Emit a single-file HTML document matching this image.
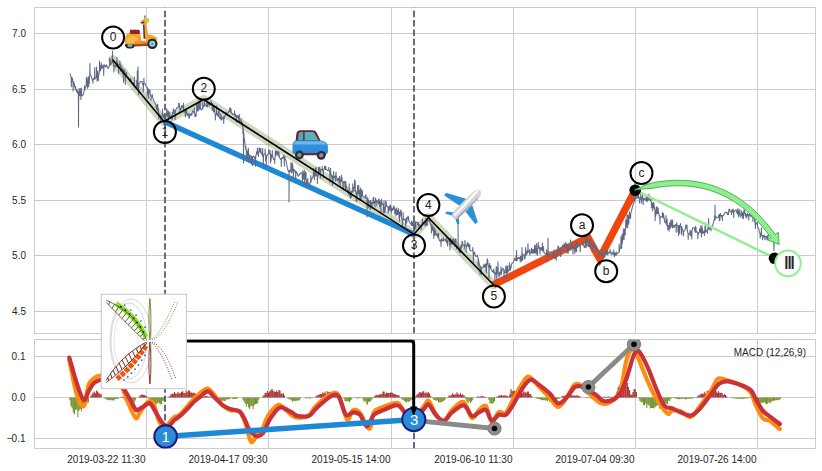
<!DOCTYPE html>
<html><head><meta charset="utf-8"><title>Chart</title>
<style>html,body{margin:0;padding:0;background:#fff;width:822px;height:471px;overflow:hidden}svg{display:block}</style>
</head><body>
<svg width="822" height="471" viewBox="0 0 822 471">
<rect width="822" height="471" fill="#fff"/>
<defs><clipPath id="cu"><rect x="34.5" y="7.5" width="781.0" height="326.0"/></clipPath>
<clipPath id="cl"><rect x="34.5" y="339.5" width="781.0" height="109.0"/></clipPath></defs>
<path d="M34.5 33.5H815.5M34.5 89.5H815.5M34.5 144.5H815.5M34.5 200.5H815.5M34.5 255.5H815.5M34.5 311.5H815.5M146.5 7.5V333.5M268.5 7.5V333.5M391.5 7.5V333.5M513.5 7.5V333.5M635.5 7.5V333.5M757.5 7.5V333.5M34.5 356.5H815.5M34.5 397.5H815.5M34.5 438.5H815.5M146.5 339.5V448.5M268.5 339.5V448.5M391.5 339.5V448.5M513.5 339.5V448.5M635.5 339.5V448.5M757.5 339.5V448.5" stroke="#cccccc" stroke-width="1" fill="none"/>
<rect x="34.5" y="7.5" width="781.0" height="326.0" fill="none" stroke="#cccccc" stroke-width="1"/>
<rect x="34.5" y="339.5" width="781.0" height="109.0" fill="none" stroke="#cccccc" stroke-width="1"/>
<g font-family="Liberation Sans, Arial, sans-serif" font-size="10" fill="#262626" text-anchor="end">
<text x="26" y="37.1">7.0</text>
<text x="26" y="93.1">6.5</text>
<text x="26" y="148.1">6.0</text>
<text x="26" y="204.1">5.5</text>
<text x="26" y="259.1">5.0</text>
<text x="26" y="315.1">4.5</text>
<text x="25.5" y="360.4">0.1</text>
<text x="25.5" y="401.4">0.0</text>
<text x="25.5" y="442.4">−<tspan dx="-1.3">0.1</tspan></text>
<text x="145.5" y="462.6">2019-03-22 11:30</text>
<text x="267.5" y="462.6">2019-04-17 09:30</text>
<text x="390.5" y="462.6">2019-05-15 14:00</text>
<text x="512.5" y="462.6">2019-06-10 11:30</text>
<text x="634.5" y="462.6">2019-07-04 09:30</text>
<text x="756.5" y="462.6">2019-07-26 14:00</text>
</g>
<g clip-path="url(#cu)">
<polyline points="112.5,59.5 164.0,121.5 203.7,99.5 414.0,234.3 428.4,217.7 493.5,284.8" fill="none" stroke="#6b7a2a" stroke-opacity="0.3" stroke-width="9" stroke-linejoin="round" stroke-linecap="round"/>
<line x1="164" y1="121.5" x2="414" y2="234.3" stroke="#1f88d4" stroke-width="5.5"/>
<polyline points="493.5,284.8 588,237.6 599.6,258.6 635.2,190" fill="none" stroke="#f0450f" stroke-width="7.3" stroke-linejoin="miter"/>
<polyline points="70.0,73.7 70.6,75.9 71.2,77.0 71.3,86.7 71.5,77.0 71.8,79.2 72.4,81.4 72.5,78.0 72.7,81.4 73.0,82.5 73.1,91.1 73.3,82.5 73.6,84.7 73.7,81.6 73.9,84.7 74.2,85.8 74.3,83.2 74.5,85.8 74.8,86.9 75.4,89.1 75.5,86.4 75.7,89.1 76.0,90.2 76.6,91.3 76.7,89.2 76.9,91.3 77.2,92.4 77.3,90.4 77.5,92.4 77.8,93.5 77.9,91.6 78.1,93.5 78.4,92.4 78.5,127.0 78.7,92.4 79.0,94.6 79.1,88.5 79.3,94.6 79.6,95.7 80.2,95.7 80.3,88.5 80.5,95.7 80.8,95.7 80.9,99.5 81.1,95.7 81.4,95.7 81.5,87.9 81.7,95.7 82.0,95.7 82.6,95.7 83.2,94.6 83.8,92.4 84.4,90.2 84.5,85.7 84.7,90.2 85.0,89.1 85.6,86.9 86.2,85.8 86.3,77.4 86.5,85.8 86.8,85.8 86.9,79.0 87.1,85.8 87.4,82.5 87.5,88.3 87.7,82.5 88.0,81.4 88.1,76.5 88.3,81.4 88.6,81.4 88.7,86.8 88.9,81.4 89.2,77.0 89.3,83.2 89.5,77.0 89.8,74.8 89.9,63.6 90.1,74.8 90.4,74.8 91.0,75.9 91.6,77.0 92.2,80.3 92.8,79.2 92.9,83.3 93.1,79.2 93.4,79.2 94.0,78.1 94.6,79.2 94.7,67.6 94.9,79.2 95.2,78.1 95.8,78.1 96.4,77.0 96.5,67.1 96.7,77.0 97.0,75.9 97.1,81.2 97.3,75.9 97.6,75.9 97.7,71.0 97.9,75.9 98.2,75.9 98.3,80.7 98.5,75.9 98.8,74.8 99.4,71.5 99.5,60.9 99.7,71.5 100.0,69.3 100.1,65.2 100.3,69.3 100.6,70.4 101.2,67.1 101.3,62.7 101.5,67.1 101.8,68.2 102.4,68.2 103.0,64.9 103.6,66.0 103.7,75.6 103.9,66.0 104.2,64.9 104.8,64.9 105.4,67.1 106.0,66.0 106.6,64.9 107.2,67.1 107.8,68.2 108.4,68.2 109.0,67.1 109.6,63.8 109.7,58.3 109.9,63.8 110.2,64.9 110.3,59.4 110.5,64.9 110.8,64.9 111.4,62.7 112.0,62.7 112.1,56.6 112.3,62.7 112.6,62.7 112.5,51.0 112.7,62.7 113.2,61.6 113.8,64.9 113.9,71.9 114.1,64.9 114.4,64.9 115.0,66.0 115.6,67.1 116.2,66.0 116.3,61.5 116.5,66.0 116.8,63.8 116.9,57.3 117.1,63.8 117.4,67.1 117.5,62.4 117.7,67.1 118.0,63.8 118.6,64.9 118.7,73.6 118.9,64.9 119.2,64.9 119.8,63.8 119.9,61.1 120.1,63.8 120.4,64.9 120.5,71.1 120.7,64.9 121.0,66.0 121.6,68.2 122.2,68.2 122.3,73.9 122.5,68.2 122.8,69.3 123.4,70.4 123.5,82.2 123.7,70.4 124.0,71.5 124.6,72.6 124.7,69.5 124.9,72.6 125.2,74.8 125.3,84.4 125.5,74.8 125.8,75.9 126.4,75.9 126.5,72.2 126.7,75.9 127.0,77.0 127.6,77.0 128.2,77.0 128.8,79.2 129.4,79.2 130.0,81.4 130.6,78.1 131.2,80.3 131.8,83.6 132.4,83.6 133.0,82.5 133.6,85.8 134.2,84.7 134.3,76.7 134.5,84.7 134.8,86.9 135.4,88.0 136.0,86.9 136.6,86.9 136.7,80.4 136.9,86.9 137.2,84.7 137.3,71.0 137.5,84.7 137.8,88.0 138.0,67.0 138.2,88.0 138.4,84.7 138.5,94.7 138.7,84.7 139.0,83.6 139.6,83.6 140.2,81.4 140.8,81.4 141.4,81.4 142.0,81.4 142.6,84.7 143.2,83.6 143.3,92.1 143.5,83.6 143.8,83.6 143.9,78.3 144.1,83.6 144.4,83.6 145.0,83.6 145.6,84.7 146.2,86.9 146.8,86.9 147.4,88.0 147.5,93.9 147.7,88.0 148.0,89.1 148.1,96.8 148.3,89.1 148.6,90.2 148.7,98.5 148.9,90.2 149.2,91.3 149.8,92.4 149.9,89.6 150.1,92.4 150.4,94.6 151.0,95.7 151.1,100.3 151.3,95.7 151.6,95.7 152.2,96.8 152.3,94.4 152.5,96.8 152.8,97.9 153.4,100.1 154.0,101.2 154.6,102.3 155.2,103.4 155.8,104.5 156.4,107.8 157.0,110.0 157.1,104.9 157.3,110.0 157.6,108.9 157.7,104.2 157.9,108.9 158.2,112.2 158.3,108.4 158.5,112.2 158.8,113.3 158.9,119.1 159.1,113.3 159.4,114.4 160.0,114.4 160.6,116.6 160.7,122.4 160.9,116.6 161.2,116.6 161.8,116.6 162.4,114.4 162.5,109.1 162.7,114.4 163.0,114.4 163.1,118.1 163.3,114.4 163.6,115.5 164.2,116.6 164.8,116.6 164.9,120.0 165.1,116.6 165.4,116.6 165.5,122.1 165.7,116.6 166.0,115.5 166.6,115.5 166.7,108.4 166.9,115.5 167.2,115.5 167.8,116.6 167.9,110.4 168.1,116.6 168.4,118.8 168.5,111.6 168.7,118.8 169.0,118.8 169.6,117.7 169.7,112.1 169.9,117.7 170.2,116.6 170.8,116.6 171.4,115.5 172.0,115.5 172.1,120.0 172.3,115.5 172.6,112.2 173.2,112.2 173.3,108.7 173.5,112.2 173.8,110.0 173.9,113.7 174.1,110.0 174.4,113.3 175.0,111.1 175.1,119.6 175.3,111.1 175.6,110.0 176.2,108.9 176.8,107.8 177.4,107.8 178.0,107.8 178.6,105.6 178.7,103.3 178.9,105.6 179.2,106.7 179.3,103.2 179.5,106.7 179.8,107.8 179.9,112.7 180.1,107.8 180.4,110.0 181.0,108.9 181.6,105.6 182.2,105.6 182.8,107.8 183.4,108.9 183.5,103.3 183.7,108.9 184.0,112.2 184.6,111.1 185.2,110.0 185.3,116.7 185.5,110.0 185.8,110.0 185.9,116.1 186.1,110.0 186.4,110.0 187.0,113.3 187.6,115.5 188.2,115.5 188.8,113.3 188.9,118.2 189.1,113.3 189.4,114.4 189.5,118.0 189.7,114.4 190.0,115.5 190.6,114.4 191.2,113.3 191.8,115.5 192.4,111.1 193.0,111.1 193.6,112.2 194.2,113.3 194.3,108.0 194.5,113.3 194.8,114.4 194.9,116.6 195.1,114.4 195.4,114.4 195.5,116.4 195.7,114.4 196.0,113.3 196.1,116.2 196.3,113.3 196.6,110.0 196.7,103.7 196.9,110.0 197.2,108.9 197.8,111.1 197.9,104.0 198.1,111.1 198.4,110.0 198.5,101.5 198.7,110.0 199.0,108.9 199.1,105.5 199.3,108.9 199.6,108.9 199.7,102.3 199.9,108.9 200.2,108.9 200.3,100.2 200.5,108.9 200.8,108.9 201.4,110.0 202.0,108.9 202.6,108.9 202.7,102.6 202.9,108.9 203.2,105.6 203.8,106.7 204.4,104.5 204.5,100.7 204.7,104.5 205.0,105.6 205.6,105.6 206.2,105.6 206.8,106.7 206.9,101.5 207.1,106.7 207.4,106.7 207.5,101.4 207.7,106.7 208.0,104.5 208.6,103.4 209.2,104.5 209.8,105.6 210.4,104.5 211.0,103.4 211.1,100.5 211.3,103.4 211.6,103.4 212.2,103.4 212.3,110.5 212.5,103.4 212.8,107.8 213.4,105.6 213.5,112.0 213.7,105.6 214.0,106.7 214.6,111.1 215.2,114.4 215.3,120.1 215.5,114.4 215.8,115.5 216.4,114.4 216.5,105.8 216.7,114.4 217.0,113.3 217.6,114.4 218.2,116.6 218.3,111.8 218.5,116.6 218.8,116.6 218.9,109.3 219.1,116.6 219.4,116.6 220.0,118.8 220.6,118.8 220.7,113.8 220.9,118.8 221.2,119.9 221.3,115.9 221.5,119.9 221.8,119.9 222.4,117.7 223.0,118.8 223.6,116.6 223.7,123.4 223.9,116.6 224.2,118.8 224.8,115.5 225.4,115.5 226.0,112.2 226.6,114.4 227.2,115.5 227.8,113.3 228.4,112.2 229.0,111.1 229.6,111.1 229.7,107.9 229.9,111.1 230.2,112.2 230.3,108.1 230.5,112.2 230.8,111.1 230.9,108.6 231.1,111.1 231.4,113.3 232.0,113.3 232.6,114.4 233.2,114.4 233.8,114.4 234.4,114.4 234.5,111.1 234.7,114.4 235.0,116.6 235.6,114.4 236.2,115.5 236.3,122.3 236.5,115.5 236.8,117.7 237.4,116.6 238.0,115.5 238.6,118.8 239.2,121.0 239.3,114.4 239.5,121.0 239.8,122.1 240.4,121.0 241.0,123.2 241.1,118.3 241.3,123.2 241.6,124.3 242.2,125.4 242.3,122.3 242.5,125.4 242.8,127.6 242.9,133.7 243.1,127.6 243.4,132.0 243.5,163.0 243.7,132.0 244.0,136.4 244.6,140.8 245.2,145.2 245.8,149.6 245.9,146.5 246.1,149.6 246.4,151.8 246.5,158.9 246.7,151.8 247.0,150.7 247.6,152.9 247.7,156.5 247.9,152.9 248.2,151.8 248.3,148.0 248.5,151.8 248.8,155.1 248.9,161.9 249.1,155.1 249.4,156.2 249.5,161.7 249.7,156.2 250.0,155.1 250.6,156.2 251.2,156.2 251.3,164.1 251.5,156.2 251.8,157.3 252.4,157.3 252.5,165.6 252.7,157.3 253.0,156.2 253.6,156.2 254.2,157.3 254.8,158.4 255.4,156.2 255.5,166.2 255.7,156.2 256.0,156.2 256.6,151.8 257.2,154.0 257.3,148.0 257.5,154.0 257.8,154.0 258.4,151.8 258.5,156.4 258.7,151.8 259.0,151.8 259.1,148.0 259.3,151.8 259.6,151.8 259.7,148.0 259.9,151.8 260.2,150.7 260.8,152.9 260.9,148.2 261.1,152.9 261.4,154.0 262.0,152.9 262.6,156.2 262.7,148.5 262.9,156.2 263.2,156.2 263.3,164.6 263.5,156.2 263.8,155.1 264.4,154.0 265.0,154.0 265.1,149.0 265.3,154.0 265.6,155.1 265.7,160.5 265.9,155.1 266.2,156.2 266.3,166.0 266.5,156.2 266.8,156.2 267.4,155.1 268.0,154.0 268.6,154.0 268.7,149.7 268.9,154.0 269.2,152.9 269.8,152.9 269.9,150.0 270.1,152.9 270.4,154.0 270.5,162.8 270.7,154.0 271.0,155.1 271.1,160.8 271.3,155.1 271.6,157.3 272.2,156.2 272.3,150.4 272.5,156.2 272.8,156.2 273.4,159.5 274.0,159.5 274.6,158.4 274.7,163.6 274.9,158.4 275.2,156.2 275.3,151.0 275.5,156.2 275.8,155.1 275.9,151.2 276.1,155.1 276.4,154.0 276.5,151.3 276.7,154.0 277.0,154.0 277.1,151.4 277.3,154.0 277.6,154.0 277.7,151.5 277.9,154.0 278.2,156.2 278.8,155.1 278.9,151.8 279.1,155.1 279.4,157.3 280.0,158.4 280.6,159.5 281.2,158.4 281.3,166.4 281.5,158.4 281.8,158.4 282.4,157.3 283.0,158.4 283.6,157.3 283.7,155.2 283.9,157.3 284.2,158.4 284.3,166.1 284.5,158.4 284.8,158.4 284.9,156.3 285.1,158.4 285.4,159.5 286.0,160.6 286.6,163.9 287.2,167.2 287.8,169.4 288.4,171.6 289.0,170.5 289.0,202.0 289.2,170.5 289.6,171.6 290.2,170.5 290.8,171.6 290.9,162.8 291.1,171.6 291.4,172.7 291.5,168.6 291.7,172.7 292.0,169.4 292.1,162.5 292.3,169.4 292.6,168.3 292.7,164.7 292.9,168.3 293.2,171.6 293.3,178.6 293.5,171.6 293.8,169.4 293.9,172.7 294.1,169.4 294.4,170.5 295.0,170.5 295.6,171.6 295.7,179.2 295.9,171.6 296.2,171.6 296.8,172.7 297.4,173.8 298.0,176.0 298.6,176.0 299.2,174.9 299.8,173.8 300.4,173.8 301.0,172.7 301.6,172.7 302.2,174.9 302.3,180.8 302.5,174.9 302.8,176.0 302.9,170.9 303.1,176.0 303.4,179.3 304.0,177.1 304.2,169.9 304.3,177.1 304.6,177.1 304.8,185.8 304.9,177.1 305.2,178.2 305.4,171.7 305.5,178.2 305.8,179.3 306.0,172.4 306.1,179.3 306.4,180.4 306.6,186.0 306.7,180.4 307.0,181.5 307.6,183.7 307.8,178.3 307.9,183.7 308.2,183.7 308.8,183.7 309.4,183.7 309.6,186.0 309.7,183.7 310.0,182.6 310.6,182.6 310.8,175.5 310.9,182.6 311.2,180.4 311.8,179.3 312.4,177.1 313.0,177.1 313.6,172.7 313.8,168.4 313.9,172.7 314.2,172.7 314.4,179.8 314.5,172.7 314.8,172.7 315.4,176.0 315.6,167.9 315.7,176.0 316.0,174.9 316.2,167.8 316.3,174.9 316.6,174.9 317.2,174.9 317.4,183.6 317.5,174.9 317.8,176.0 318.4,174.9 318.6,167.3 318.7,174.9 319.0,172.7 319.6,169.4 319.8,167.1 319.9,169.4 320.2,169.4 320.4,178.2 320.5,169.4 320.8,170.5 321.4,169.4 322.0,169.4 322.2,166.6 322.3,169.4 322.6,169.4 323.2,171.6 323.4,178.1 323.5,171.6 323.8,169.4 324.4,168.3 324.6,166.1 324.7,168.3 325.0,168.3 325.6,169.4 325.8,166.2 325.9,169.4 326.2,169.4 326.8,169.4 327.4,170.5 328.0,170.5 328.6,170.5 328.8,167.4 328.9,170.5 329.2,170.5 329.8,172.7 330.0,182.3 330.1,172.7 330.4,174.9 330.6,168.2 330.7,174.9 331.0,173.8 331.6,177.1 332.2,176.0 332.4,185.5 332.5,176.0 332.8,176.0 333.0,181.8 333.1,176.0 333.4,178.2 333.6,171.6 333.7,178.2 334.0,176.0 334.6,177.1 335.2,176.0 335.4,180.9 335.5,176.0 335.8,176.0 336.0,172.1 336.1,176.0 336.4,176.0 337.0,180.4 337.6,180.4 338.2,178.2 338.8,178.2 339.0,182.9 339.1,178.2 339.4,180.4 339.6,176.4 339.7,180.4 340.0,179.3 340.2,185.4 340.3,179.3 340.6,181.5 341.2,181.5 341.4,175.0 341.5,181.5 341.8,181.5 342.0,177.3 342.1,181.5 342.4,181.5 343.0,183.7 343.2,190.0 343.3,183.7 343.6,181.5 344.2,182.6 344.8,181.5 345.0,187.3 345.1,181.5 345.4,181.5 345.6,190.2 345.7,181.5 346.0,184.8 346.6,187.0 347.2,190.3 347.8,190.3 348.4,193.6 349.0,194.7 349.2,183.7 349.3,194.7 349.6,195.8 350.2,193.6 350.4,198.6 350.5,193.6 350.8,191.4 351.4,191.4 351.6,197.1 351.7,191.4 352.0,192.5 352.6,191.4 352.8,183.7 352.9,191.4 353.2,191.4 353.8,187.0 354.4,187.0 354.6,179.9 354.7,187.0 355.0,191.4 355.2,181.0 355.3,191.4 355.6,190.3 356.2,192.5 356.4,201.4 356.5,192.5 356.8,192.5 357.0,200.2 357.1,192.5 357.4,193.6 357.6,185.4 357.7,193.6 358.0,192.5 358.6,193.6 358.8,185.4 358.9,193.6 359.2,191.4 359.4,195.6 359.5,191.4 359.8,190.3 360.0,199.7 360.1,190.3 360.4,191.4 360.6,188.1 360.7,191.4 361.0,193.6 361.2,199.5 361.3,193.6 361.6,194.7 361.8,189.9 361.9,194.7 362.2,195.8 362.4,190.8 362.5,195.8 362.8,195.8 363.4,196.9 364.0,196.9 364.6,196.9 365.2,198.0 365.4,195.1 365.5,198.0 365.8,198.0 366.0,195.2 366.1,198.0 366.4,198.0 367.0,198.0 367.0,217.0 367.2,198.0 367.2,206.1 367.3,198.0 367.6,198.0 367.8,202.7 367.9,198.0 368.2,200.2 368.4,207.7 368.5,200.2 368.8,202.4 369.4,201.3 370.0,203.5 370.2,209.8 370.3,203.5 370.6,200.2 371.2,202.4 371.4,206.0 371.5,202.4 371.8,203.5 372.0,208.2 372.1,203.5 372.4,202.4 373.0,202.4 373.2,197.4 373.3,202.4 373.6,203.5 373.8,197.6 373.9,203.5 374.2,201.3 374.8,202.4 375.0,206.9 375.1,202.4 375.4,202.4 375.6,198.1 375.7,202.4 376.0,201.3 376.6,200.2 376.8,205.7 376.9,200.2 377.2,201.3 377.8,201.3 378.4,203.5 378.6,199.2 378.7,203.5 379.0,204.6 379.2,199.1 379.3,204.6 379.6,206.8 380.2,205.7 380.4,200.8 380.5,205.7 380.8,206.8 381.0,214.0 381.1,206.8 381.4,203.5 381.6,199.3 381.7,203.5 382.0,202.4 382.6,204.6 383.2,204.6 383.4,212.7 383.5,204.6 383.8,205.7 384.0,200.7 384.1,205.7 384.4,207.9 384.6,212.6 384.7,207.9 385.0,207.9 385.2,212.2 385.3,207.9 385.6,206.8 385.8,200.4 385.9,206.8 386.2,205.7 386.4,202.5 386.5,205.7 386.8,205.7 387.4,206.8 388.0,206.8 388.2,213.0 388.3,206.8 388.6,206.8 388.8,211.4 388.9,206.8 389.2,210.1 389.8,209.0 390.0,204.9 390.1,209.0 390.4,210.1 390.6,205.5 390.7,210.1 391.0,210.1 391.2,213.5 391.3,210.1 391.6,207.9 391.8,211.0 391.9,207.9 392.2,209.0 392.8,210.1 393.4,207.9 393.6,205.9 393.7,207.9 394.0,209.0 394.2,206.3 394.3,209.0 394.6,209.0 394.8,214.1 394.9,209.0 395.2,209.0 395.8,211.2 396.0,216.1 396.1,211.2 396.4,211.2 396.6,207.7 396.7,211.2 397.0,214.5 397.2,210.3 397.3,214.5 397.6,214.5 398.2,212.3 398.4,208.6 398.5,212.3 398.8,212.3 399.0,218.1 399.1,212.3 399.4,213.4 399.6,221.6 399.7,213.4 400.0,214.5 400.2,209.7 400.3,214.5 400.6,213.4 401.2,216.7 401.4,210.8 401.5,216.7 401.8,220.0 402.4,221.1 402.6,226.4 402.7,221.1 403.0,220.0 403.2,212.5 403.3,220.0 403.6,218.9 404.2,218.9 404.8,220.0 405.4,220.0 405.6,227.9 405.7,220.0 406.0,218.9 406.6,217.8 406.8,223.1 406.9,217.8 407.2,217.8 407.8,217.8 408.0,216.0 408.1,217.8 408.4,220.0 408.6,216.9 408.7,220.0 409.0,221.1 409.6,222.2 410.2,223.3 410.8,223.3 411.4,225.5 411.6,221.1 411.7,225.5 412.0,225.5 412.2,222.0 412.3,225.5 412.6,225.5 413.2,223.3 413.4,221.7 413.5,223.3 413.8,223.3 414.0,227.4 414.1,223.3 414.4,223.3 414.6,229.4 414.7,223.3 415.0,223.3 415.2,221.2 415.3,223.3 415.6,223.3 415.8,228.8 415.9,223.3 416.2,222.2 416.8,222.2 417.4,222.2 417.6,225.0 417.7,222.2 418.0,222.2 418.6,224.4 418.8,226.9 418.9,224.4 419.2,224.4 419.8,225.5 420.4,225.5 421.0,225.5 421.2,229.4 421.3,225.5 421.6,225.5 422.2,224.4 422.4,219.1 422.5,224.4 422.8,223.3 423.4,222.2 424.0,222.2 424.6,222.2 424.8,224.7 424.9,222.2 425.2,222.2 425.4,225.9 425.5,222.2 425.8,223.3 426.0,217.9 426.1,223.3 426.4,222.2 426.6,225.5 426.7,222.2 427.0,221.1 427.2,225.5 427.3,221.1 427.6,221.1 428.2,220.0 428.8,221.1 429.4,221.1 429.6,216.6 429.7,221.1 430.0,222.2 430.6,223.3 431.2,225.5 431.4,233.1 431.5,225.5 431.8,227.7 432.0,224.4 432.1,227.7 432.4,228.8 433.0,231.0 433.2,226.4 433.3,231.0 433.6,232.1 433.8,238.5 433.9,232.1 434.2,234.3 434.4,228.0 434.5,234.3 434.8,235.4 435.4,234.3 435.6,230.1 435.7,234.3 436.0,233.2 436.6,235.4 437.2,234.3 437.8,237.6 438.0,233.0 438.1,237.6 438.4,237.6 438.6,233.8 438.7,237.6 439.0,238.7 439.6,240.9 440.2,240.9 440.8,239.8 441.0,246.6 441.1,239.8 441.4,238.7 442.0,240.9 442.6,239.8 443.2,240.9 443.4,237.8 443.5,240.9 443.8,239.8 444.4,239.8 445.0,239.8 445.6,240.9 446.2,240.9 446.4,237.9 446.5,240.9 446.8,243.1 447.4,240.9 447.6,245.9 447.7,240.9 448.0,239.8 448.6,239.8 448.8,237.7 448.9,239.8 449.2,240.9 449.8,243.1 450.0,249.7 450.1,243.1 450.4,243.1 450.6,238.1 450.7,243.1 451.0,244.2 451.2,239.2 451.3,244.2 451.6,244.2 452.2,244.2 452.4,239.5 452.5,244.2 452.8,242.0 453.4,240.9 453.6,238.5 453.7,240.9 454.0,242.0 454.6,240.9 454.8,246.2 454.9,240.9 455.2,242.0 455.4,238.7 455.5,242.0 455.8,243.1 456.0,239.1 456.1,243.1 456.4,245.3 456.6,249.0 456.7,245.3 457.0,246.4 457.6,246.4 458.2,245.3 458.0,225.0 458.2,245.3 458.8,247.5 459.0,251.2 459.1,247.5 459.4,248.6 459.6,252.6 459.7,248.6 460.0,247.5 460.2,252.7 460.3,247.5 460.6,246.4 460.8,251.6 460.9,246.4 461.2,245.3 461.4,248.1 461.5,245.3 461.8,246.4 462.0,241.4 462.1,246.4 462.4,244.2 462.6,241.5 462.7,244.2 463.0,244.2 463.6,245.3 464.2,245.3 464.4,248.9 464.5,245.3 464.8,245.3 465.0,240.3 465.1,245.3 465.4,245.3 466.0,245.3 466.2,251.9 466.3,245.3 466.6,246.4 467.2,245.3 467.4,242.2 467.5,245.3 467.8,245.3 468.4,246.4 468.6,243.4 468.7,246.4 469.0,246.4 469.6,249.7 469.8,244.6 469.9,249.7 470.2,250.8 470.8,250.8 471.4,250.8 472.0,250.8 472.6,250.8 472.8,247.6 472.9,250.8 473.2,254.1 473.4,262.3 473.5,254.1 473.8,255.2 474.4,251.9 475.0,254.1 475.6,256.3 476.2,256.3 476.8,256.3 477.4,255.2 478.0,258.5 478.2,266.6 478.3,258.5 478.6,260.7 479.2,264.0 479.8,266.2 480.0,273.8 480.1,266.2 480.4,267.3 481.0,269.5 481.2,274.8 481.3,269.5 481.6,267.3 482.2,267.3 482.8,267.3 483.4,267.3 484.0,264.0 484.6,267.3 485.2,265.1 485.8,264.0 486.0,271.0 486.1,264.0 486.4,264.0 486.6,272.7 486.7,264.0 487.0,262.9 487.2,258.8 487.3,262.9 487.6,264.0 487.8,259.9 487.9,264.0 488.2,265.1 488.8,267.3 489.0,279.0 489.2,267.3 489.4,267.3 489.6,263.3 489.7,267.3 490.0,267.3 490.6,268.4 490.8,265.5 490.9,268.4 491.2,269.5 491.8,270.6 492.4,271.7 493.0,271.7 493.2,270.0 493.3,271.7 493.6,272.8 493.8,269.0 493.9,272.8 494.2,271.7 494.8,273.9 495.0,281.0 495.1,273.9 495.4,272.8 496.0,273.9 496.2,266.6 496.3,273.9 496.6,273.9 496.8,279.8 496.9,273.9 497.2,272.8 497.4,266.7 497.5,272.8 497.8,271.7 498.0,261.8 498.1,271.7 498.4,273.9 499.0,277.2 499.6,272.8 500.2,271.7 500.8,275.0 501.0,266.8 501.1,275.0 501.4,272.8 502.0,270.6 502.6,268.4 503.2,268.4 503.8,269.5 504.0,279.8 504.1,269.5 504.4,271.7 505.0,272.8 505.6,271.7 505.8,266.1 505.9,271.7 506.2,269.5 506.4,278.5 506.5,269.5 506.8,272.8 507.0,265.9 507.1,272.8 507.4,272.8 507.6,265.9 507.7,272.8 508.0,271.7 508.6,270.6 509.2,269.5 509.4,262.9 509.5,269.5 509.8,267.3 510.0,270.7 510.1,267.3 510.4,266.2 510.6,269.2 510.7,266.2 511.0,265.1 511.2,267.6 511.3,265.1 511.6,264.0 512.2,262.9 512.8,262.9 513.4,261.8 514.0,260.7 514.6,258.5 515.2,259.6 515.8,260.7 516.0,255.8 516.1,260.7 516.4,258.5 516.6,250.6 516.7,258.5 517.0,260.7 517.6,258.5 518.2,257.4 518.8,258.5 519.4,257.4 520.0,258.5 520.2,262.0 520.3,258.5 520.6,256.3 521.2,256.3 521.4,261.2 521.5,256.3 521.8,256.3 522.0,247.5 522.1,256.3 522.4,255.2 522.6,260.3 522.7,255.2 523.0,255.2 523.6,254.1 524.2,255.2 524.4,259.1 524.5,255.2 524.8,256.3 525.0,258.6 525.1,256.3 525.4,255.2 525.6,247.6 525.7,255.2 526.0,255.2 526.6,254.1 526.8,250.7 526.9,254.1 527.2,253.0 527.8,251.9 528.0,243.5 528.1,251.9 528.4,251.9 529.0,251.9 529.6,249.7 529.8,255.3 529.9,249.7 530.2,251.9 530.8,253.0 531.4,253.0 531.6,248.0 531.7,253.0 532.0,253.0 532.2,249.2 532.3,253.0 532.6,253.0 533.2,253.0 533.4,249.3 533.5,253.0 533.8,253.0 534.4,253.0 534.6,245.4 534.7,253.0 535.0,251.9 535.6,253.0 535.8,245.2 535.9,253.0 536.2,251.9 536.4,243.7 536.5,251.9 536.8,250.8 537.0,254.8 537.1,250.8 537.4,248.6 537.6,255.0 537.7,248.6 538.0,245.3 538.2,242.2 538.3,245.3 538.6,245.3 539.2,248.6 539.8,247.5 540.0,253.9 540.1,247.5 540.4,248.6 541.0,249.7 541.6,247.5 542.2,250.8 542.4,243.0 542.5,250.8 542.8,250.8 543.4,250.8 543.6,246.4 543.7,250.8 544.0,253.0 544.6,253.0 545.2,254.1 545.8,254.1 546.4,254.1 546.6,249.7 546.7,254.1 547.0,254.1 547.2,261.2 547.3,254.1 547.6,253.0 547.8,256.7 547.9,253.0 548.0,238.0 548.2,253.0 548.2,251.9 548.4,256.9 548.5,251.9 548.8,251.9 549.4,251.9 550.0,251.9 550.6,251.9 551.2,251.9 551.8,251.9 552.4,253.0 553.0,253.0 553.2,257.1 553.3,253.0 553.6,255.2 553.8,250.1 553.9,255.2 554.2,256.3 554.8,254.1 555.0,258.7 555.1,254.1 555.4,254.1 556.0,255.2 556.2,260.2 556.3,255.2 556.6,254.1 557.2,251.9 557.4,254.8 557.5,251.9 557.8,249.7 558.0,246.1 558.1,249.7 558.4,250.8 558.6,246.2 558.7,250.8 559.0,248.6 559.6,250.8 560.2,249.7 560.4,256.5 560.5,249.7 560.8,248.6 561.0,255.7 561.1,248.6 561.4,247.5 562.0,247.5 562.6,245.3 563.2,246.4 563.8,246.4 564.0,243.4 564.1,246.4 564.4,247.5 565.0,244.2 565.6,244.2 565.8,242.2 565.9,244.2 566.2,244.2 566.4,251.9 566.5,244.2 566.8,245.3 567.0,253.1 567.1,245.3 567.4,244.2 568.0,246.4 568.2,253.2 568.3,246.4 568.6,248.6 569.2,249.7 569.8,247.5 570.4,246.4 570.6,239.9 570.7,246.4 571.0,246.4 571.6,247.5 572.2,247.5 572.4,241.9 572.5,247.5 572.8,247.5 573.0,254.0 573.1,247.5 573.4,247.5 574.0,246.4 574.6,248.6 574.8,253.6 574.9,248.6 575.2,248.6 575.4,251.8 575.5,248.6 575.8,247.5 576.0,242.2 576.1,247.5 576.4,247.5 576.6,251.6 576.7,247.5 577.0,246.4 577.2,241.8 577.3,246.4 577.6,247.5 578.2,246.4 578.8,245.3 579.4,245.3 580.0,246.4 580.2,252.0 580.3,246.4 580.6,245.3 581.2,244.2 581.8,243.1 582.4,243.1 583.0,245.3 583.6,245.3 583.8,241.1 583.9,245.3 584.2,247.5 584.8,247.5 585.4,245.3 585.6,237.8 585.7,245.3 586.0,243.1 586.2,247.7 586.3,243.1 586.6,244.2 586.8,237.4 586.9,244.2 587.2,245.3 587.8,245.3 588.4,246.4 589.0,246.4 589.2,238.8 589.3,246.4 589.6,245.3 590.2,245.3 590.4,238.7 590.5,245.3 590.8,244.2 591.4,245.3 592.0,244.2 592.2,252.5 592.3,244.2 592.6,244.2 593.2,246.4 593.4,242.4 593.5,246.4 593.8,245.3 594.4,246.4 594.6,243.9 594.7,246.4 595.0,247.5 595.6,247.5 595.8,250.9 595.9,247.5 596.2,247.5 596.4,246.2 596.5,247.5 596.8,248.6 597.4,249.7 598.0,249.7 598.6,250.8 598.8,256.3 598.9,250.8 599.2,250.8 599.4,254.5 599.5,250.8 599.8,251.9 600.4,251.9 601.0,254.1 601.6,253.0 601.8,256.2 601.9,253.0 602.2,254.1 602.4,250.0 602.5,254.1 602.8,255.2 603.4,255.2 603.6,257.4 603.7,255.2 604.0,254.1 604.6,253.0 604.8,257.6 604.9,253.0 605.2,253.0 605.8,253.0 606.4,249.7 606.6,254.5 606.7,249.7 607.0,249.7 607.6,251.9 607.8,255.0 607.9,251.9 608.2,251.9 608.8,253.0 609.4,251.9 610.0,253.0 610.2,249.4 610.3,253.0 610.6,253.0 611.2,254.1 611.8,254.1 612.0,251.8 612.1,254.1 612.4,253.0 613.0,254.1 613.6,254.1 613.8,250.0 613.9,254.1 614.2,254.1 614.4,256.8 614.5,254.1 614.8,253.0 615.4,255.2 615.6,253.0 615.7,255.2 616.0,255.2 616.2,252.1 616.3,255.2 616.6,254.1 617.2,253.0 617.8,253.0 618.4,253.0 619.0,251.9 619.2,244.1 619.3,251.9 619.6,249.7 620.2,248.6 620.8,246.4 621.0,236.5 621.1,246.4 621.4,245.3 621.6,248.5 621.7,245.3 622.0,243.1 622.2,234.1 622.3,243.1 622.6,240.9 623.2,237.6 623.4,228.8 623.5,237.6 623.8,236.5 624.0,239.5 624.1,236.5 624.4,234.3 624.6,228.9 624.7,234.3 625.0,231.0 625.2,235.0 625.3,231.0 625.6,227.7 625.8,219.7 625.9,227.7 626.2,227.7 626.8,224.4 627.0,213.9 627.1,224.4 627.4,222.2 627.6,227.8 627.7,222.2 628.0,222.2 628.2,215.3 628.3,222.2 628.6,220.0 628.8,224.2 628.9,220.0 629.2,217.8 629.4,211.9 629.5,217.8 629.8,216.7 630.4,213.4 630.6,218.4 630.7,213.4 631.0,212.3 631.6,210.1 632.2,207.9 632.8,205.7 633.4,203.5 634.0,201.3 634.2,194.4 634.3,201.3 634.6,199.1 634.8,201.6 634.9,199.1 635.0,183.0 635.2,199.1 635.2,198.0 635.8,199.1 636.4,198.0 637.0,195.8 637.2,188.9 637.3,195.8 637.6,198.0 638.2,198.0 638.4,192.8 638.5,198.0 638.8,196.9 639.4,198.0 639.6,203.0 639.7,198.0 640.0,199.1 640.6,199.1 640.8,192.9 640.9,199.1 641.2,198.0 641.4,203.2 641.5,198.0 641.8,196.9 642.4,199.1 642.6,193.6 642.7,199.1 643.0,199.1 643.2,204.4 643.3,199.1 643.6,200.2 644.2,198.0 644.8,199.1 645.4,200.2 646.0,200.2 646.2,195.3 646.3,200.2 646.6,201.3 646.8,195.4 646.9,201.3 647.2,201.3 647.4,195.6 647.5,201.3 647.8,199.1 648.4,200.2 649.0,198.0 649.0,194.0 649.2,198.0 649.6,199.1 650.2,200.2 650.8,201.3 651.0,198.7 651.1,201.3 651.4,202.4 651.6,207.9 651.7,202.4 652.0,203.5 652.6,203.5 652.8,211.1 652.9,203.5 653.2,206.8 653.4,202.3 653.5,206.8 653.8,207.9 654.0,203.2 654.1,207.9 654.4,206.8 655.0,210.1 655.2,220.6 655.3,210.1 655.6,211.2 655.8,216.1 655.9,211.2 656.2,211.2 656.4,207.0 656.5,211.2 656.8,213.4 657.0,206.8 657.1,213.4 657.4,213.4 658.0,213.4 658.2,208.0 658.3,213.4 658.6,212.3 659.2,215.6 659.8,216.7 660.0,224.0 660.1,216.7 660.4,217.8 661.0,216.7 661.6,216.7 662.2,216.7 662.4,212.2 662.5,216.7 662.8,217.8 663.4,217.8 663.6,213.4 663.7,217.8 664.0,216.7 664.6,222.2 665.2,222.2 665.8,223.3 666.0,215.6 666.1,223.3 666.4,224.4 667.0,225.5 667.2,219.0 667.3,225.5 667.6,225.5 667.8,229.7 667.9,225.5 668.2,225.5 668.8,225.5 669.0,231.3 669.1,225.5 669.4,227.7 669.6,222.8 669.7,227.7 670.0,228.8 670.6,225.5 670.8,220.0 670.9,225.5 671.2,225.5 671.8,226.6 672.0,219.8 672.1,226.6 672.4,227.7 672.6,220.2 672.7,227.7 673.0,226.6 673.6,225.5 674.2,227.7 674.8,225.5 675.4,224.4 676.0,225.5 676.2,232.2 676.3,225.5 676.6,225.5 676.8,222.5 676.9,225.5 677.2,225.5 677.8,225.5 678.0,231.8 678.1,225.5 678.4,228.8 678.6,235.5 678.7,228.8 679.0,225.5 679.6,225.5 679.8,233.5 679.9,225.5 680.2,226.6 680.4,223.6 680.5,226.6 680.8,226.6 681.4,226.6 681.6,234.4 681.7,226.6 682.0,227.7 682.6,229.9 683.2,231.0 683.4,235.9 683.5,231.0 683.8,231.0 684.4,231.0 685.0,229.9 685.6,227.7 685.8,225.0 685.9,227.7 686.2,227.7 686.4,225.0 686.5,227.7 686.8,228.8 687.0,225.0 687.1,228.8 687.4,231.0 688.0,233.2 688.2,239.6 688.3,233.2 688.6,234.3 689.2,234.3 689.8,234.3 690.0,230.5 690.1,234.3 690.4,232.1 690.6,236.0 690.7,232.1 691.0,231.0 691.6,231.0 691.8,239.0 691.9,231.0 692.2,229.9 692.8,227.7 693.4,227.7 694.0,227.7 694.6,229.9 695.2,232.1 695.4,226.4 695.5,232.1 695.8,232.1 696.0,227.2 696.1,232.1 696.4,231.0 697.0,232.1 697.6,233.2 697.8,238.4 697.9,233.2 698.2,234.3 698.8,232.1 699.4,232.1 699.6,228.7 699.7,232.1 700.0,232.1 700.6,232.1 700.8,225.7 700.9,232.1 701.2,232.1 701.4,236.9 701.5,232.1 701.8,233.2 702.0,225.8 702.1,233.2 702.4,233.2 702.6,229.1 702.7,233.2 703.0,233.2 703.6,232.1 704.2,231.0 704.4,235.4 704.5,231.0 704.8,232.1 705.0,226.2 705.1,232.1 705.4,232.1 705.6,222.9 705.7,232.1 706.0,229.9 706.6,231.0 707.2,231.0 707.4,233.4 707.5,231.0 707.8,227.7 708.4,227.7 708.6,218.4 708.7,227.7 709.0,229.9 709.6,227.7 710.2,228.8 710.8,227.7 711.0,230.9 711.1,227.7 711.4,227.7 712.0,226.6 712.6,225.5 713.2,223.3 713.8,221.1 714.4,220.0 714.6,215.6 714.7,220.0 715.0,217.8 715.0,205.0 715.2,217.8 715.2,220.0 715.3,217.8 715.6,216.7 716.2,216.7 716.8,217.8 717.4,217.8 718.0,217.8 718.6,215.6 719.2,214.5 719.4,220.8 719.5,214.5 719.8,215.6 720.0,220.0 720.1,215.6 720.4,213.4 721.0,215.6 721.6,216.7 722.2,215.6 722.4,220.7 722.5,215.6 722.8,215.6 723.4,215.6 724.0,214.5 724.6,213.4 725.2,212.3 725.8,212.3 726.4,212.3 727.0,213.4 727.6,214.5 728.2,212.3 728.4,214.8 728.5,212.3 728.8,211.2 729.0,209.2 729.1,211.2 729.4,211.2 729.6,209.1 729.7,211.2 730.0,211.2 730.6,211.2 731.2,211.2 731.4,214.7 731.5,211.2 731.8,212.3 732.0,209.4 732.1,212.3 732.4,212.3 733.0,212.3 733.2,209.1 733.3,212.3 733.6,211.2 733.8,217.4 733.9,211.2 734.2,211.2 734.8,211.2 735.4,210.1 736.0,210.1 736.6,210.1 736.8,212.9 736.9,210.1 737.2,211.2 737.4,214.1 737.5,211.2 737.8,211.2 738.0,208.6 738.1,211.2 738.4,211.2 738.6,217.0 738.7,211.2 739.0,213.4 739.2,216.2 739.3,213.4 739.6,213.4 739.8,209.3 739.9,213.4 740.2,213.4 740.8,214.5 741.0,217.3 741.1,214.5 741.4,215.6 741.6,210.8 741.7,215.6 742.0,214.5 742.6,213.4 742.8,218.4 742.9,213.4 743.2,212.3 743.4,218.6 743.5,212.3 743.8,213.4 744.0,209.8 744.1,213.4 744.4,211.2 744.6,209.9 744.7,211.2 745.0,213.4 745.2,216.2 745.3,213.4 745.6,213.4 746.2,215.6 746.4,218.2 746.5,215.6 746.8,215.6 747.4,213.4 748.0,216.7 748.6,214.5 748.8,219.9 748.9,214.5 749.2,215.6 749.8,214.5 750.4,215.6 750.6,210.9 750.7,215.6 751.0,216.7 751.2,213.5 751.3,216.7 751.6,215.6 751.8,212.1 751.9,215.6 752.2,214.5 752.4,210.5 752.5,214.5 752.8,216.7 753.0,221.4 753.1,216.7 753.4,215.6 754.0,217.8 754.6,218.9 754.8,222.4 754.9,218.9 755.2,222.2 755.4,228.4 755.5,222.2 755.8,222.2 756.4,223.3 757.0,224.4 757.2,222.5 757.3,224.4 757.6,226.6 758.2,227.7 758.8,228.8 759.4,232.1 760.0,233.2 760.2,238.0 760.3,233.2 760.6,233.2 760.8,236.3 760.9,233.2 761.2,233.2 761.4,228.1 761.5,233.2 761.8,235.4 762.4,235.4 762.6,239.7 762.7,235.4 763.0,235.4 763.6,236.5 764.2,237.6 764.4,235.1 764.5,237.6 764.8,236.5 765.0,240.0 765.1,236.5 765.4,236.5 766.0,236.5 766.6,236.5 766.8,239.4 766.9,236.5 767.2,236.5 767.8,235.4 768.0,240.1 768.1,235.4 768.4,235.4 769.0,234.3 769.6,233.2 770.2,234.3 770.8,235.4 771.4,236.5 771.6,234.2 771.7,236.5 772.0,237.6 772.6,238.7 773.2,239.8 773.8,243.1 774.0,250.5 774.1,243.1 774.4,242.0" fill="none" stroke="#5d6884" stroke-width="1.05" stroke-linejoin="round"/>
<polyline points="112.5,59.5 164.0,121.5 203.7,99.5 414.0,234.3 428.4,217.7 493.5,284.8" fill="none" stroke="#000" stroke-width="1.6" stroke-linejoin="miter"/>
<line x1="635.2" y1="190" x2="774.5" y2="258" stroke="#90ee90" stroke-width="2.5"/>
<circle cx="635.2" cy="190.2" r="5.8" fill="#000"/>
<circle cx="774.5" cy="258.3" r="5.8" fill="#000"/>
<path d="M634.5 190.0 L637.5 189.6 L640.5 189.2 L643.4 188.9 L646.3 188.7 L649.2 188.5 L652.0 188.4 L654.7 187.9 L657.4 187.4 L660.1 187.0 L662.8 186.7 L665.4 186.4 L668.0 186.1 L670.6 186.0 L673.2 185.8 L675.8 185.7 L678.3 185.7 L680.8 185.8 L683.3 185.8 L685.8 186.0 L688.2 186.2 L690.7 186.4 L693.1 186.7 L695.5 187.0 L697.8 187.4 L700.2 187.9 L702.5 188.4 L704.8 189.0 L707.1 189.6 L709.4 190.2 L711.7 191.0 L713.9 191.7 L716.1 192.6 L718.3 193.4 L720.5 194.4 L722.7 195.4 L724.8 196.4 L726.9 197.5 L729.0 198.6 L731.1 199.8 L733.2 201.1 L735.3 202.4 L737.3 203.8 L739.3 205.2 L741.3 206.6 L743.3 208.2 L745.2 209.7 L747.2 211.4 L749.1 213.1 L751.0 214.8 L752.9 216.6 L754.8 218.5 L756.6 220.4 L758.5 222.3 L760.3 224.3 L762.1 226.4 L763.9 228.5 L765.6 230.7 L767.4 232.9 L769.1 235.2 L770.8 237.6 L770.8 237.6 L767.6 239.8 L779.1 244.5 L778.4 232.2 L775.2 234.4 L775.2 234.4 L773.4 232.0 L771.7 229.7 L769.9 227.3 L768.0 225.1 L766.2 222.9 L764.3 220.8 L762.4 218.7 L760.5 216.6 L758.6 214.7 L756.7 212.7 L754.7 210.9 L752.7 209.0 L750.7 207.3 L748.7 205.6 L746.6 203.9 L744.6 202.3 L742.5 200.8 L740.3 199.3 L738.2 197.9 L736.1 196.5 L733.9 195.2 L731.7 193.9 L729.5 192.7 L727.2 191.6 L725.0 190.5 L722.7 189.4 L720.4 188.5 L718.1 187.5 L715.7 186.7 L713.4 185.8 L711.0 185.1 L708.6 184.4 L706.2 183.7 L703.7 183.1 L701.3 182.6 L698.8 182.1 L696.3 181.7 L693.8 181.3 L691.3 181.0 L688.7 180.8 L686.1 180.6 L683.5 180.4 L680.9 180.4 L678.3 180.3 L675.7 180.4 L673.0 180.4 L670.3 180.6 L667.6 180.8 L664.9 181.0 L662.1 181.3 L659.4 181.7 L656.6 182.1 L653.8 182.6 L651.0 183.1 L648.3 184.1 L645.5 185.2 L642.8 186.3 L640.0 187.5 L637.3 188.7 L634.5 190.0Z" fill="#90ee90" stroke="#4caf50" stroke-width="1"/>
<path d="M165 333.5 V7.5 M414 333.5 V7.5" stroke="#4f5a6c" stroke-width="1.75" stroke-dasharray="6.5 2.8" fill="none"/>
<g fill="none" stroke="#000" stroke-width="2">
<circle cx="113.1" cy="37.5" r="11"/>
<circle cx="164.9" cy="132.1" r="11"/>
<circle cx="203.8" cy="88.7" r="11"/>
<circle cx="414.0" cy="245.4" r="11"/>
<circle cx="428.4" cy="205.1" r="11"/>
<circle cx="493.9" cy="296.4" r="11"/>
<circle cx="582.0" cy="225.3" r="11"/>
<circle cx="606.2" cy="271.2" r="11"/>
<circle cx="641.5" cy="173.1" r="11"/>
</g>
<g font-family="Liberation Sans, Arial, sans-serif" font-size="12" fill="#222" text-anchor="middle">
<text x="113.1" y="41.1">0</text>
<text x="164.9" y="135.7">1</text>
<text x="203.8" y="92.3">2</text>
<text x="414.0" y="249.0">3</text>
<text x="428.4" y="208.7">4</text>
<text x="493.9" y="300.0">5</text>
<text x="582.0" y="228.9">a</text>
<text x="606.2" y="274.8">b</text>
<text x="641.5" y="176.7">c</text>
</g>
<circle cx="788" cy="263.4" r="12.8" fill="#fff" stroke="#90ee90" stroke-width="2"/>
<text x="783.8 786.95 790.1" y="268.8" font-family="Liberation Sans, sans-serif" font-size="18.7" fill="#222" stroke="#222" stroke-width="0.2">III</text>
<g id="scooter">
  <ellipse cx="130" cy="45.3" rx="5" ry="3.3" fill="#1e2a33"/>
  <ellipse cx="130" cy="45.6" rx="2.6" ry="1.6" fill="#7fa8b8"/>
  <path d="M124.8 41.5 C124.5 36 127 32.5 131 32 L139.5 32.5 C141 36 141.5 39 141 41.5 L139 44.2 L128 44.5 C126 44.3 125 43.2 124.8 41.5Z" fill="#f2a433"/>
  <path d="M126 40.5 C127 37 130 35.5 134 36 L138 38 L137 43 L128 43.5Z" fill="#f7c04a" opacity="0.8"/>
  <path d="M130 29.8 L139 29.8 C140 30.5 140.2 32.5 139.6 34 L130.5 34 C129.8 33 129.8 31 130 29.8Z" fill="#8e2424"/>
  <path d="M135 41 L147 40.5 L147.5 44.8 L134 45.5Z" fill="#e8952a"/>
  <path d="M134 44.3 L147.5 43.6 L147.5 46 L134 46.4Z" fill="#a0442a"/>
  <path d="M143.3 23 C145.5 23 146.8 25 147.2 28 L148 34.5 C150.5 34.8 154 35.5 156.8 37.5 C157.6 38.6 157.3 40.2 156 40.6 L147.5 41 C145.2 40.4 144.6 38 144.5 35.5 L143.8 27Z" fill="#f2a433"/>
  <path d="M143 24.5 L144.3 24.5 L145.2 38.5 L143.6 39Z" fill="#3a3050"/>
  <path d="M141 20.5 L146.5 18 C148.5 17.5 149.8 19.2 149 21.2 L146 24.3 L142 24.5Z" fill="#e9a43a"/>
  <circle cx="147.2" cy="20" r="2" fill="#c8d050"/>
  <path d="M140.5 22.5 L144 21.6 L144.3 23 L140.8 23.6Z" fill="#2a2a3a"/>
  <path d="M144 15.5 L145.5 15.5 L145.6 18.5 L144.2 18.5Z" fill="#777"/>
  <circle cx="152.3" cy="43.8" r="5.2" fill="#1e2a33"/>
  <circle cx="152.3" cy="43.8" r="3" fill="#a8d4d8"/>
  <circle cx="152.3" cy="43.8" r="1.3" fill="#5a9a80"/>
</g>
<g id="car">
  <path d="M295.5 141.5 L296.5 133 C297 131 298.5 130.2 300.5 130.2 L312.5 130.2 C314.5 130.2 315.6 131 316.6 132.6 L321 141.5Z" fill="#6b2336"/>
  <path d="M297.8 140.6 L298.6 134 C298.9 132.6 299.6 132 301 132 L303.2 132 L303.2 140.6Z" fill="#4fa9b2"/>
  <path d="M304.6 140.6 L304.6 132 L312 132 C313.3 132 314.1 132.6 314.8 133.8 L318.5 140.6Z" fill="#58b4bc"/>
  <path d="M292.6 145 C292.6 142 294 140.5 297 140.5 L320.5 140.6 C324 141 327.5 142.5 327.8 145.5 L328 151.5 C328 153.2 327 154 325.5 154 L294.5 154 C293 154 292.4 153 292.4 151.5Z" fill="#2f8ddc"/>
  <path d="M294 142.8 C295 141.6 296.5 141.2 298 141.2 L320 141.3 C323 141.6 326 142.6 327 144.5 L294 144.5Z" fill="#6fb8ee"/>
  <path d="M296 153 L326 153 L326 155.3 L296 155.3Z" fill="#6e2a33"/>
  <circle cx="299.4" cy="155" r="4.4" fill="#2d2d35"/>
  <circle cx="299.4" cy="155" r="2.2" fill="#8a8f98"/>
  <circle cx="321.2" cy="155.3" r="4.4" fill="#2d2d35"/>
  <circle cx="321.2" cy="155.3" r="2.2" fill="#8a8f98"/>
</g>
<g id="plane" transform="translate(466.4 204.6) rotate(-45)">
  <path d="M4.5 -3 L-6 -22.8 L-9.2 -22.2 L-5.5 -3Z" fill="#2b8fd9"/>
  <path d="M4.5 3 L-4.5 20.6 L-7.6 20 L-5.5 3Z" fill="#2b8fd9"/>
  <path d="M-13 -2 L-19 -9.4 L-21.2 -8.7 L-17.5 -1.5Z" fill="#2b8fd9"/>
  <path d="M-13 2 L-18.5 8.6 L-20.8 8 L-17.5 1.5Z" fill="#2b8fd9"/>
  <path d="M-19 0 C-19 -2.8 -16 -4.2 -12 -4.3 L12 -4.3 C16.5 -4.3 19.5 -2.4 19.5 0 C19.5 2.4 16.5 4.3 12 4.3 L-12 4.3 C-16 4.2 -19 2.8 -19 0Z" fill="#d3d3d8"/>
  <path d="M-16 -1.8 L14 -3.2 C16.5 -3 18.3 -1.8 18.3 -0.5 L-16 0.6Z" fill="#f7f7f7"/>
  <path d="M-17 2.2 L12 3.0 L12 4.1 L-15 3.8Z" fill="#a0a0aa"/>
</g>

</g>
<g clip-path="url(#cl)">
<path d="M90.3 397.5v-1.6h1v1.6zM91.5 397.5v-3.3h1v3.3zM92.6 397.5v-5.1h1v5.1zM93.8 397.5v-5.9h1v5.9zM94.9 397.5v-4.3h1v4.3zM96.1 397.5v-6.9h1v6.9zM97.2 397.5v-6.1h1v6.1zM98.4 397.5v-4.7h1v4.7zM99.5 397.5v-3.2h1v3.2zM100.7 397.5v-3.8h1v3.8zM120.3 397.5v-0.4h1v0.4zM121.5 397.5v-0.9h1v0.9zM122.6 397.5v-0.4h1v0.4zM138.3 397.5v-0.5h1v0.5zM139.5 397.5v-2.0h1v2.0zM140.6 397.5v-2.8h1v2.8zM141.8 397.5v-3.1h1v3.1zM142.9 397.5v-2.6h1v2.6zM144.1 397.5v-2.6h1v2.6zM145.2 397.5v-1.5h1v1.5zM146.4 397.5v-1.2h1v1.2zM168.3 397.5v-0.8h1v0.8zM169.5 397.5v-1.7h1v1.7zM170.6 397.5v-3.2h1v3.2zM171.8 397.5v-4.1h1v4.1zM172.9 397.5v-3.8h1v3.8zM174.1 397.5v-5.4h1v5.4zM175.2 397.5v-4.1h1v4.1zM176.4 397.5v-3.7h1v3.7zM177.5 397.5v-5.5h1v5.5zM178.7 397.5v-4.0h1v4.0zM179.8 397.5v-4.6h1v4.6zM181.0 397.5v-5.5h1v5.5zM182.1 397.5v-6.3h1v6.3zM183.3 397.5v-4.7h1v4.7zM184.4 397.5v-4.3h1v4.3zM185.6 397.5v-7.2h1v7.2zM186.7 397.5v-5.2h1v5.2zM187.9 397.5v-7.2h1v7.2zM189.0 397.5v-6.8h1v6.8zM190.2 397.5v-4.9h1v4.9zM191.3 397.5v-4.9h1v4.9zM192.5 397.5v-4.8h1v4.8zM193.6 397.5v-4.7h1v4.7zM194.8 397.5v-4.1h1v4.1zM195.9 397.5v-3.5h1v3.5zM197.1 397.5v-3.0h1v3.0zM198.2 397.5v-2.6h1v2.6zM199.4 397.5v-1.1h1v1.1zM201.5 397.5v-0.8h1v0.8zM202.6 397.5v-0.8h1v0.8zM203.8 397.5v-1.0h1v1.0zM204.9 397.5v-1.6h1v1.6zM206.1 397.5v-1.3h1v1.3zM207.2 397.5v-1.3h1v1.3zM208.4 397.5v-0.8h1v0.8zM209.5 397.5v-0.9h1v0.9zM210.7 397.5v-0.7h1v0.7zM262.3 397.5v-1.0h1v1.0zM263.4 397.5v-2.5h1v2.5zM264.6 397.5v-4.6h1v4.6zM265.7 397.5v-4.5h1v4.5zM266.9 397.5v-6.6h1v6.6zM268.0 397.5v-4.8h1v4.8zM269.2 397.5v-5.9h1v5.9zM270.3 397.5v-7.4h1v7.4zM271.5 397.5v-8.7h1v8.7zM272.6 397.5v-7.0h1v7.0zM273.8 397.5v-6.1h1v6.1zM274.9 397.5v-5.5h1v5.5zM276.1 397.5v-7.1h1v7.1zM277.2 397.5v-5.4h1v5.4zM278.4 397.5v-7.4h1v7.4zM279.5 397.5v-6.9h1v6.9zM280.7 397.5v-4.1h1v4.1zM281.8 397.5v-3.7h1v3.7zM283.0 397.5v-3.9h1v3.9zM284.1 397.5v-2.1h1v2.1zM315.3 397.5v-0.9h1v0.9zM316.4 397.5v-2.1h1v2.1zM317.6 397.5v-2.5h1v2.5zM318.7 397.5v-3.2h1v3.2zM319.9 397.5v-3.4h1v3.4zM321.0 397.5v-3.3h1v3.3zM322.2 397.5v-5.0h1v5.0zM323.3 397.5v-4.3h1v4.3zM324.5 397.5v-6.0h1v6.0zM325.6 397.5v-3.7h1v3.7zM326.8 397.5v-6.2h1v6.2zM327.9 397.5v-5.5h1v5.5zM329.1 397.5v-5.8h1v5.8zM330.2 397.5v-5.3h1v5.3zM331.4 397.5v-4.8h1v4.8zM332.5 397.5v-3.5h1v3.5zM333.7 397.5v-1.9h1v1.9zM334.8 397.5v-2.0h1v2.0zM338.4 397.5v-0.7h1v0.7zM339.6 397.5v-0.9h1v0.9zM340.7 397.5v-0.7h1v0.7zM373.3 397.5v-0.7h1v0.7zM374.4 397.5v-1.7h1v1.7zM375.6 397.5v-2.9h1v2.9zM376.7 397.5v-2.2h1v2.2zM377.9 397.5v-2.6h1v2.6zM379.0 397.5v-3.1h1v3.1zM380.2 397.5v-3.3h1v3.3zM381.3 397.5v-3.4h1v3.4zM382.5 397.5v-6.1h1v6.1zM383.6 397.5v-6.0h1v6.0zM384.8 397.5v-3.8h1v3.8zM385.9 397.5v-5.1h1v5.1zM387.1 397.5v-4.5h1v4.5zM388.2 397.5v-4.5h1v4.5zM389.4 397.5v-4.5h1v4.5zM390.5 397.5v-5.2h1v5.2zM391.7 397.5v-4.8h1v4.8zM392.8 397.5v-3.9h1v3.9zM394.0 397.5v-3.2h1v3.2zM395.1 397.5v-3.2h1v3.2zM396.3 397.5v-2.4h1v2.4zM397.4 397.5v-2.5h1v2.5zM398.6 397.5v-1.9h1v1.9zM415.3 397.5v-1.1h1v1.1zM416.4 397.5v-3.1h1v3.1zM417.6 397.5v-3.7h1v3.7zM418.7 397.5v-5.2h1v5.2zM419.9 397.5v-5.2h1v5.2zM421.0 397.5v-4.8h1v4.8zM422.2 397.5v-6.0h1v6.0zM423.3 397.5v-6.6h1v6.6zM424.5 397.5v-4.3h1v4.3zM425.6 397.5v-5.2h1v5.2zM426.8 397.5v-4.7h1v4.7zM427.9 397.5v-5.2h1v5.2zM429.1 397.5v-4.1h1v4.1zM430.2 397.5v-1.7h1v1.7zM447.3 397.5v-0.6h1v0.6zM448.4 397.5v-1.9h1v1.9zM449.6 397.5v-1.8h1v1.8zM450.7 397.5v-2.5h1v2.5zM451.9 397.5v-4.2h1v4.2zM453.0 397.5v-2.9h1v2.9zM454.2 397.5v-3.1h1v3.1zM455.3 397.5v-3.2h1v3.2zM456.5 397.5v-5.2h1v5.2zM457.6 397.5v-3.4h1v3.4zM458.8 397.5v-2.8h1v2.8zM459.9 397.5v-4.4h1v4.4zM461.1 397.5v-2.5h1v2.5zM462.2 397.5v-3.2h1v3.2zM463.4 397.5v-2.2h1v2.2zM464.5 397.5v-1.1h1v1.1zM476.4 397.5v-0.8h1v0.8zM477.6 397.5v-1.2h1v1.2zM478.7 397.5v-0.8h1v0.8zM479.9 397.5v-1.1h1v1.1zM481.0 397.5v-1.3h1v1.3zM482.2 397.5v-1.5h1v1.5zM483.3 397.5v-1.0h1v1.0zM484.5 397.5v-0.8h1v0.8zM485.6 397.5v-0.6h1v0.6zM495.3 397.5v-0.4h1v0.4zM496.4 397.5v-0.8h1v0.8zM497.6 397.5v-1.5h1v1.5zM498.7 397.5v-2.3h1v2.3zM499.9 397.5v-1.9h1v1.9zM501.0 397.5v-2.4h1v2.4zM502.2 397.5v-1.7h1v1.7zM503.3 397.5v-2.3h1v2.3zM504.5 397.5v-2.2h1v2.2zM505.6 397.5v-1.9h1v1.9zM506.8 397.5v-1.4h1v1.4zM507.9 397.5v-0.9h1v0.9zM509.3 397.5v-3.0h1v3.0zM510.4 397.5v-8.4h1v8.4zM511.6 397.5v-6.7h1v6.7zM512.8 397.5v-6.2h1v6.2zM513.9 397.5v-6.8h1v6.8zM515.3 397.5v-1.3h1v1.3zM516.4 397.5v-2.7h1v2.7zM517.6 397.5v-3.6h1v3.6zM518.7 397.5v-5.1h1v5.1zM519.9 397.5v-4.2h1v4.2zM521.0 397.5v-4.8h1v4.8zM522.2 397.5v-4.8h1v4.8zM523.3 397.5v-6.2h1v6.2zM524.5 397.5v-5.2h1v5.2zM525.6 397.5v-4.8h1v4.8zM526.8 397.5v-5.9h1v5.9zM527.9 397.5v-6.0h1v6.0zM529.1 397.5v-3.5h1v3.5zM530.2 397.5v-3.4h1v3.4zM531.4 397.5v-1.5h1v1.5zM561.4 397.5v-1.2h1v1.2zM562.6 397.5v-1.8h1v1.8zM563.7 397.5v-1.7h1v1.7zM564.9 397.5v-1.7h1v1.7zM566.0 397.5v-1.9h1v1.9zM567.2 397.5v-2.7h1v2.7zM568.3 397.5v-2.7h1v2.7zM569.5 397.5v-3.2h1v3.2zM570.6 397.5v-3.1h1v3.1zM571.8 397.5v-2.1h1v2.1zM572.9 397.5v-2.0h1v2.0zM574.1 397.5v-2.0h1v2.0zM575.2 397.5v-1.8h1v1.8zM576.4 397.5v-2.2h1v2.2zM577.5 397.5v-2.0h1v2.0zM578.7 397.5v-1.6h1v1.6zM579.8 397.5v-0.8h1v0.8zM601.4 397.5v-0.5h1v0.5zM602.6 397.5v-0.8h1v0.8zM603.7 397.5v-0.7h1v0.7zM604.9 397.5v-0.8h1v0.8zM606.0 397.5v-0.7h1v0.7zM607.2 397.5v-0.7h1v0.7zM608.3 397.5v-0.9h1v0.9zM609.5 397.5v-0.6h1v0.6zM610.6 397.5v-0.8h1v0.8zM611.8 397.5v-0.7h1v0.7zM615.3 397.5v-3.1h1v3.1zM616.4 397.5v-5.9h1v5.9zM617.6 397.5v-10.3h1v10.3zM618.7 397.5v-12.3h1v12.3zM619.9 397.5v-10.6h1v10.6zM621.0 397.5v-14.3h1v14.3zM622.2 397.5v-14.7h1v14.7zM623.3 397.5v-16.0h1v16.0zM624.5 397.5v-11.4h1v11.4zM625.6 397.5v-14.4h1v14.4zM626.8 397.5v-14.4h1v14.4zM627.9 397.5v-10.6h1v10.6zM629.1 397.5v-7.6h1v7.6zM630.2 397.5v-3.3h1v3.3zM631.3 397.5v-2.5h1v2.5zM632.4 397.5v-5.6h1v5.6zM633.6 397.5v-8.5h1v8.5zM634.7 397.5v-8.1h1v8.1zM635.9 397.5v-5.5h1v5.5zM696.3 397.5v-0.6h1v0.6zM697.4 397.5v-1.8h1v1.8zM698.6 397.5v-2.2h1v2.2zM699.7 397.5v-3.3h1v3.3zM700.9 397.5v-4.0h1v4.0zM702.0 397.5v-3.5h1v3.5zM703.2 397.5v-4.0h1v4.0zM704.3 397.5v-5.8h1v5.8zM705.5 397.5v-3.8h1v3.8zM706.6 397.5v-6.5h1v6.5zM707.8 397.5v-7.0h1v7.0zM708.9 397.5v-7.4h1v7.4zM710.1 397.5v-5.5h1v5.5zM711.2 397.5v-6.1h1v6.1zM712.4 397.5v-6.2h1v6.2zM713.5 397.5v-6.3h1v6.3zM714.7 397.5v-7.4h1v7.4zM715.8 397.5v-6.2h1v6.2zM717.0 397.5v-4.8h1v4.8zM718.1 397.5v-6.2h1v6.2zM719.3 397.5v-4.8h1v4.8zM720.4 397.5v-4.7h1v4.7zM721.6 397.5v-4.6h1v4.6zM722.7 397.5v-2.5h1v2.5zM723.9 397.5v-3.4h1v3.4zM725.0 397.5v-2.5h1v2.5zM726.2 397.5v-1.3h1v1.3z" fill="#a52a2a"/>
<path d="M69.3 397.5v2.8h1v-2.8zM70.5 397.5v8.8h1v-8.8zM71.6 397.5v11.0h1v-11.0zM72.8 397.5v15.1h1v-15.1zM73.9 397.5v17.0h1v-17.0zM75.1 397.5v12.5h1v-12.5zM76.2 397.5v12.1h1v-12.1zM77.4 397.5v19.8h1v-19.8zM78.5 397.5v13.2h1v-13.2zM79.7 397.5v11.4h1v-11.4zM80.8 397.5v14.0h1v-14.0zM82.0 397.5v7.0h1v-7.0zM83.3 397.5v2.7h1v-2.7zM84.5 397.5v5.4h1v-5.4zM85.6 397.5v7.3h1v-7.3zM86.8 397.5v5.2h1v-5.2zM87.9 397.5v5.1h1v-5.1zM103.3 397.5v0.5h1v-0.5zM104.5 397.5v1.3h1v-1.3zM105.6 397.5v2.0h1v-2.0zM106.8 397.5v2.3h1v-2.3zM107.9 397.5v2.8h1v-2.8zM109.1 397.5v2.3h1v-2.3zM110.2 397.5v3.0h1v-3.0zM111.4 397.5v2.5h1v-2.5zM112.5 397.5v3.1h1v-3.1zM113.7 397.5v2.9h1v-2.9zM114.8 397.5v1.6h1v-1.6zM116.0 397.5v1.4h1v-1.4zM117.1 397.5v1.2h1v-1.2zM118.3 397.5v1.0h1v-1.0zM123.3 397.5v1.2h1v-1.2zM124.5 397.5v2.9h1v-2.9zM125.6 397.5v3.9h1v-3.9zM126.8 397.5v5.4h1v-5.4zM127.9 397.5v6.0h1v-6.0zM129.1 397.5v7.3h1v-7.3zM130.2 397.5v6.5h1v-6.5zM131.4 397.5v7.0h1v-7.0zM132.5 397.5v6.0h1v-6.0zM133.7 397.5v5.3h1v-5.3zM134.8 397.5v3.1h1v-3.1zM148.3 397.5v1.3h1v-1.3zM149.5 397.5v2.7h1v-2.7zM150.6 397.5v3.2h1v-3.2zM151.8 397.5v6.3h1v-6.3zM152.9 397.5v7.6h1v-7.6zM154.1 397.5v4.8h1v-4.8zM155.2 397.5v7.9h1v-7.9zM156.4 397.5v6.4h1v-6.4zM157.5 397.5v5.3h1v-5.3zM158.7 397.5v5.7h1v-5.7zM159.8 397.5v7.0h1v-7.0zM161.0 397.5v6.6h1v-6.6zM162.1 397.5v3.3h1v-3.3zM163.3 397.5v3.6h1v-3.6zM164.4 397.5v1.3h1v-1.3zM214.3 397.5v0.4h1v-0.4zM215.5 397.5v1.7h1v-1.7zM216.6 397.5v2.4h1v-2.4zM217.8 397.5v2.0h1v-2.0zM218.9 397.5v3.2h1v-3.2zM220.1 397.5v3.2h1v-3.2zM221.2 397.5v3.7h1v-3.7zM222.4 397.5v3.1h1v-3.1zM223.5 397.5v3.7h1v-3.7zM224.7 397.5v3.6h1v-3.6zM225.8 397.5v2.0h1v-2.0zM227.0 397.5v1.8h1v-1.8zM228.1 397.5v2.0h1v-2.0zM229.3 397.5v1.4h1v-1.4zM230.3 397.5v0.4h1v-0.4zM231.5 397.5v1.1h1v-1.1zM232.6 397.5v1.6h1v-1.6zM233.8 397.5v1.5h1v-1.5zM234.9 397.5v1.5h1v-1.5zM236.1 397.5v1.2h1v-1.2zM237.2 397.5v0.8h1v-0.8zM242.3 397.5v1.9h1v-1.9zM243.5 397.5v4.1h1v-4.1zM244.6 397.5v6.0h1v-6.0zM245.8 397.5v9.0h1v-9.0zM246.9 397.5v6.4h1v-6.4zM248.1 397.5v10.0h1v-10.0zM249.2 397.5v11.4h1v-11.4zM250.4 397.5v9.1h1v-9.1zM251.5 397.5v8.4h1v-8.4zM252.7 397.5v11.5h1v-11.5zM253.8 397.5v7.7h1v-7.7zM255.0 397.5v6.6h1v-6.6zM256.1 397.5v6.6h1v-6.6zM257.3 397.5v5.7h1v-5.7zM258.4 397.5v2.1h1v-2.1zM287.3 397.5v0.9h1v-0.9zM288.4 397.5v1.8h1v-1.8zM289.6 397.5v2.1h1v-2.1zM290.7 397.5v2.8h1v-2.8zM291.9 397.5v4.2h1v-4.2zM293.0 397.5v3.3h1v-3.3zM294.2 397.5v3.5h1v-3.5zM295.3 397.5v3.5h1v-3.5zM296.5 397.5v3.3h1v-3.3zM297.6 397.5v2.9h1v-2.9zM298.8 397.5v3.0h1v-3.0zM299.9 397.5v1.3h1v-1.3zM304.4 397.5v0.6h1v-0.6zM305.6 397.5v0.8h1v-0.8zM306.7 397.5v1.0h1v-1.0zM307.9 397.5v0.8h1v-0.8zM309.0 397.5v1.1h1v-1.1zM310.2 397.5v1.0h1v-1.0zM311.3 397.5v0.6h1v-0.6zM312.5 397.5v0.6h1v-0.6zM343.3 397.5v1.0h1v-1.0zM344.4 397.5v3.5h1v-3.5zM345.6 397.5v3.9h1v-3.9zM346.7 397.5v3.8h1v-3.8zM347.9 397.5v3.6h1v-3.6zM349.0 397.5v4.7h1v-4.7zM350.2 397.5v3.0h1v-3.0zM351.3 397.5v2.0h1v-2.0zM354.4 397.5v0.5h1v-0.5zM355.6 397.5v0.8h1v-0.8zM356.7 397.5v1.0h1v-1.0zM357.9 397.5v0.7h1v-0.7zM359.0 397.5v0.8h1v-0.8zM360.2 397.5v0.5h1v-0.5zM362.3 397.5v1.7h1v-1.7zM363.4 397.5v4.3h1v-4.3zM364.6 397.5v3.5h1v-3.5zM365.7 397.5v6.1h1v-6.1zM366.9 397.5v7.2h1v-7.2zM368.0 397.5v4.2h1v-4.2zM369.2 397.5v4.4h1v-4.4zM370.3 397.5v3.4h1v-3.4zM371.5 397.5v2.0h1v-2.0zM400.3 397.5v0.8h1v-0.8zM401.4 397.5v1.7h1v-1.7zM402.6 397.5v2.5h1v-2.5zM403.7 397.5v3.4h1v-3.4zM404.9 397.5v4.3h1v-4.3zM406.0 397.5v4.9h1v-4.9zM407.2 397.5v3.9h1v-3.9zM408.3 397.5v4.7h1v-4.7zM409.5 397.5v3.8h1v-3.8zM410.6 397.5v2.8h1v-2.8zM411.8 397.5v1.9h1v-1.9zM432.3 397.5v1.0h1v-1.0zM433.4 397.5v2.5h1v-2.5zM434.6 397.5v2.6h1v-2.6zM435.7 397.5v3.5h1v-3.5zM436.9 397.5v3.1h1v-3.1zM438.0 397.5v5.0h1v-5.0zM439.2 397.5v4.7h1v-4.7zM440.3 397.5v5.1h1v-5.1zM441.5 397.5v4.5h1v-4.5zM442.6 397.5v3.7h1v-3.7zM443.8 397.5v3.1h1v-3.1zM444.9 397.5v1.8h1v-1.8zM465.3 397.5v1.8h1v-1.8zM466.4 397.5v3.7h1v-3.7zM467.6 397.5v5.4h1v-5.4zM468.7 397.5v3.7h1v-3.7zM469.9 397.5v5.7h1v-5.7zM471.0 397.5v4.1h1v-4.1zM472.2 397.5v2.8h1v-2.8zM488.3 397.5v2.2h1v-2.2zM489.4 397.5v5.8h1v-5.8zM490.6 397.5v6.1h1v-6.1zM491.7 397.5v6.2h1v-6.2zM492.9 397.5v5.6h1v-5.6zM494.0 397.5v3.7h1v-3.7zM535.3 397.5v0.6h1v-0.6zM536.4 397.5v1.3h1v-1.3zM537.6 397.5v1.5h1v-1.5zM538.7 397.5v1.8h1v-1.8zM539.9 397.5v1.8h1v-1.8zM541.0 397.5v2.7h1v-2.7zM542.2 397.5v2.7h1v-2.7zM543.3 397.5v2.5h1v-2.5zM544.5 397.5v3.0h1v-3.0zM545.6 397.5v3.0h1v-3.0zM546.8 397.5v3.9h1v-3.9zM547.9 397.5v2.7h1v-2.7zM549.1 397.5v4.3h1v-4.3zM550.2 397.5v3.2h1v-3.2zM551.4 397.5v3.3h1v-3.3zM552.5 397.5v2.9h1v-2.9zM553.7 397.5v3.3h1v-3.3zM554.8 397.5v3.0h1v-3.0zM556.0 397.5v2.3h1v-2.3zM557.1 397.5v1.8h1v-1.8zM558.3 397.5v1.5h1v-1.5zM559.4 397.5v0.8h1v-0.8zM585.6 397.5v0.5h1v-0.5zM586.7 397.5v0.7h1v-0.7zM587.9 397.5v0.6h1v-0.6zM589.0 397.5v0.6h1v-0.6zM590.2 397.5v1.0h1v-1.0zM591.3 397.5v0.7h1v-0.7zM592.5 397.5v0.8h1v-0.8zM593.6 397.5v0.8h1v-0.8zM594.8 397.5v0.8h1v-0.8zM595.9 397.5v0.5h1v-0.5zM597.1 397.5v0.5h1v-0.5zM598.2 397.5v0.4h1v-0.4zM638.3 397.5v1.0h1v-1.0zM639.4 397.5v3.4h1v-3.4zM640.6 397.5v4.7h1v-4.7zM641.7 397.5v4.4h1v-4.4zM642.9 397.5v7.8h1v-7.8zM644.0 397.5v7.7h1v-7.7zM645.2 397.5v6.0h1v-6.0zM646.3 397.5v10.4h1v-10.4zM647.5 397.5v7.0h1v-7.0zM648.6 397.5v8.3h1v-8.3zM649.8 397.5v10.8h1v-10.8zM650.9 397.5v10.4h1v-10.4zM652.1 397.5v10.4h1v-10.4zM653.2 397.5v11.0h1v-11.0zM654.4 397.5v9.9h1v-9.9zM655.5 397.5v9.0h1v-9.0zM656.7 397.5v8.1h1v-8.1zM657.8 397.5v7.4h1v-7.4zM659.0 397.5v10.9h1v-10.9zM660.1 397.5v10.7h1v-10.7zM661.3 397.5v9.1h1v-9.1zM662.4 397.5v9.6h1v-9.6zM663.6 397.5v7.2h1v-7.2zM664.7 397.5v6.2h1v-6.2zM665.9 397.5v6.0h1v-6.0zM667.0 397.5v6.8h1v-6.8zM668.2 397.5v3.3h1v-3.3zM669.3 397.5v3.4h1v-3.4zM670.5 397.5v1.4h1v-1.4zM672.4 397.5v0.6h1v-0.6zM673.6 397.5v0.8h1v-0.8zM674.7 397.5v1.0h1v-1.0zM675.9 397.5v1.3h1v-1.3zM677.0 397.5v1.6h1v-1.6zM678.2 397.5v1.4h1v-1.4zM679.3 397.5v1.9h1v-1.9zM680.5 397.5v1.3h1v-1.3zM681.6 397.5v1.5h1v-1.5zM682.8 397.5v1.3h1v-1.3zM683.9 397.5v1.3h1v-1.3zM685.1 397.5v1.9h1v-1.9zM686.2 397.5v1.8h1v-1.8zM687.4 397.5v1.2h1v-1.2zM688.5 397.5v1.2h1v-1.2zM689.7 397.5v1.2h1v-1.2zM690.8 397.5v1.3h1v-1.3zM692.0 397.5v1.1h1v-1.1zM693.1 397.5v0.8h1v-0.8zM694.3 397.5v0.4h1v-0.4zM730.4 397.5v0.5h1v-0.5zM731.6 397.5v0.6h1v-0.6zM732.7 397.5v0.9h1v-0.9zM733.9 397.5v0.7h1v-0.7zM735.0 397.5v1.1h1v-1.1zM736.2 397.5v1.3h1v-1.3zM737.3 397.5v1.2h1v-1.2zM738.5 397.5v1.3h1v-1.3zM739.6 397.5v1.6h1v-1.6zM740.8 397.5v1.6h1v-1.6zM741.9 397.5v1.0h1v-1.0zM743.1 397.5v1.4h1v-1.4zM744.2 397.5v1.2h1v-1.2zM745.4 397.5v0.8h1v-0.8zM746.5 397.5v0.9h1v-0.9zM747.7 397.5v0.7h1v-0.7zM748.8 397.5v0.5h1v-0.5zM750.0 397.5v0.4h1v-0.4zM752.3 397.5v0.8h1v-0.8zM753.4 397.5v1.5h1v-1.5zM754.6 397.5v2.9h1v-2.9zM755.7 397.5v3.3h1v-3.3zM756.9 397.5v2.7h1v-2.7zM758.0 397.5v4.6h1v-4.6zM759.2 397.5v4.4h1v-4.4zM760.3 397.5v5.5h1v-5.5zM761.5 397.5v5.2h1v-5.2zM762.6 397.5v5.5h1v-5.5zM763.8 397.5v4.5h1v-4.5zM764.9 397.5v6.0h1v-6.0zM766.1 397.5v6.4h1v-6.4zM767.2 397.5v6.2h1v-6.2zM768.4 397.5v4.8h1v-4.8zM769.5 397.5v5.7h1v-5.7zM770.7 397.5v4.7h1v-4.7zM771.8 397.5v3.5h1v-3.5zM773.0 397.5v3.2h1v-3.2zM774.1 397.5v3.0h1v-3.0zM775.3 397.5v3.0h1v-3.0zM776.4 397.5v2.6h1v-2.6zM777.6 397.5v2.8h1v-2.8zM778.7 397.5v2.4h1v-2.4zM779.9 397.5v1.5h1v-1.5z" fill="#6b8e23"/>
<path d="M69.3 360.0 C70.3 364.8 73.4 381.6 75.3 389.0 C77.2 396.4 79.0 401.5 80.4 404.3 C81.8 407.1 83.0 406.6 83.8 406.0 C84.6 405.4 84.7 404.7 85.5 401.0 C86.3 397.3 87.2 388.0 88.9 384.0 C90.6 380.0 93.6 378.6 95.6 377.2 C97.6 375.8 98.3 375.7 100.7 375.5 C103.1 375.3 107.1 375.1 110.0 376.0 C112.9 376.9 115.9 378.8 118.0 381.0 C120.1 383.2 120.8 384.7 122.8 389.0 C124.8 393.3 127.7 402.0 129.9 406.8 C132.1 411.6 134.2 416.9 135.8 418.0 C137.4 419.1 138.0 415.6 139.5 413.5 C141.0 411.4 142.9 407.4 144.7 405.3 C146.4 403.2 148.5 401.1 150.0 400.8 C151.5 400.6 152.3 400.8 153.7 403.8 C155.0 406.8 156.9 415.2 158.1 418.7 C159.3 422.2 159.8 423.1 161.0 424.6 C162.2 426.2 163.5 428.5 165.0 428.0 C166.5 427.5 168.4 423.4 170.0 421.6 C171.6 419.8 172.8 418.2 174.5 417.0 C176.2 415.8 177.0 417.4 180.4 414.2 C183.8 411.0 190.6 402.1 195.0 397.8 C199.4 393.5 203.7 388.8 207.0 388.5 C210.3 388.2 212.5 393.2 215.0 396.0 C217.5 398.8 219.5 402.7 222.0 405.0 C224.5 407.3 227.0 408.8 230.0 410.0 C233.0 411.2 237.3 409.5 240.0 412.0 C242.7 414.5 244.2 420.1 246.0 425.0 C247.8 429.9 249.3 439.6 251.0 441.6 C252.7 443.6 254.2 438.9 256.0 437.0 C257.8 435.1 260.0 433.5 262.0 430.0 C264.0 426.5 265.3 420.2 268.0 416.0 C270.7 411.8 275.0 406.0 278.0 405.0 C281.0 404.0 283.2 408.0 286.0 410.0 C288.8 412.0 291.3 416.0 295.0 417.0 C298.7 418.0 304.7 417.7 308.0 416.0 C311.3 414.3 312.2 410.0 315.0 407.0 C317.8 404.0 322.0 400.3 325.0 398.0 C328.0 395.7 330.7 393.3 333.0 393.0 C335.3 392.7 336.6 391.6 339.0 396.0 C341.4 400.4 344.9 417.1 347.2 419.4 C349.5 421.7 350.9 411.1 353.0 410.0 C355.1 408.9 357.3 409.9 360.0 413.0 C362.7 416.1 367.1 429.0 369.4 428.8 C371.7 428.6 371.7 415.6 374.0 412.0 C376.3 408.4 379.5 408.5 383.0 407.0 C386.5 405.5 392.2 403.3 395.0 403.0 C397.8 402.7 398.0 402.8 400.0 405.0 C402.0 407.2 404.7 413.8 407.0 416.0 C409.3 418.2 411.2 419.7 414.0 418.0 C416.8 416.3 421.6 408.8 424.0 406.0 C426.4 403.2 426.8 399.7 428.7 401.0 C430.6 402.3 433.2 410.5 435.7 414.0 C438.2 417.5 441.2 422.7 443.9 422.0 C446.6 421.3 448.7 413.3 452.0 410.0 C455.3 406.7 460.4 400.7 463.7 402.0 C467.0 403.3 469.4 416.7 472.0 418.0 C474.6 419.3 476.7 412.0 479.0 410.0 C481.3 408.0 483.9 404.0 486.0 406.0 C488.1 408.0 489.7 421.0 491.8 422.0 C493.9 423.0 496.5 413.5 498.8 412.0 C501.1 410.5 503.5 415.0 505.8 413.0 C508.1 411.0 510.1 404.8 512.8 400.0 C515.5 395.2 519.4 387.9 522.0 384.0 C524.6 380.1 525.8 376.2 528.5 376.5 C531.2 376.8 535.0 382.4 538.5 386.0 C542.0 389.6 546.5 394.5 549.8 398.0 C553.1 401.5 555.4 407.2 558.3 407.0 C561.1 406.8 564.2 400.7 566.9 397.0 C569.5 393.3 572.0 387.0 574.2 385.0 C576.4 383.0 578.1 383.8 580.3 385.0 C582.5 386.2 585.0 389.5 587.6 392.0 C590.2 394.5 593.6 398.0 596.2 400.0 C598.9 402.0 600.6 404.0 603.5 404.0 C606.4 404.0 610.4 402.3 613.3 400.0 C616.1 397.7 618.5 396.3 620.6 390.0 C622.7 383.7 624.3 368.7 626.0 362.0 C627.7 355.3 629.4 351.8 631.0 350.0 C632.6 348.2 633.2 347.3 635.5 351.5 C637.8 355.7 641.8 367.6 645.0 375.0 C648.2 382.4 651.1 389.6 654.8 396.0 C658.5 402.4 664.1 410.8 667.0 413.2 C669.9 415.6 669.8 411.1 672.0 410.7 C674.2 410.3 676.9 409.9 680.0 411.0 C683.1 412.1 687.5 417.7 690.7 417.0 C693.9 416.3 695.8 411.5 699.3 407.0 C702.8 402.5 708.5 394.7 711.5 390.0 C714.5 385.3 715.2 380.7 717.6 379.0 C720.0 377.3 722.1 379.0 726.0 380.0 C729.9 381.0 736.6 383.0 740.7 385.0 C744.8 387.0 748.0 388.8 750.5 392.0 C753.0 395.2 753.4 399.7 755.4 404.0 C757.4 408.3 760.3 415.2 762.7 418.0 C765.1 420.8 767.1 419.2 770.0 421.0 C772.9 422.8 778.2 427.7 779.8 429.0" fill="none" stroke="#ff8c0f" stroke-width="4.2" stroke-linejoin="round" stroke-linecap="round"/>
<path d="M69.3 357.6 C70.6 362.0 74.6 376.9 77.0 384.0 C79.4 391.1 81.8 398.9 83.8 400.0 C85.8 401.1 87.2 393.5 88.9 390.7 C90.6 387.9 92.0 384.8 94.0 383.0 C96.0 381.2 98.0 380.5 100.7 379.7 C103.4 378.9 107.1 377.6 110.0 378.0 C112.9 378.4 115.7 380.2 118.0 382.0 C120.3 383.8 121.9 386.1 123.9 389.0 C125.9 391.9 127.9 395.9 129.9 399.3 C131.9 402.8 134.2 408.1 135.8 409.7 C137.4 411.3 137.5 410.0 139.5 409.0 C141.5 408.0 145.8 404.7 147.7 403.8 C149.6 402.9 149.5 402.6 150.7 403.8 C151.9 405.0 153.6 408.7 155.1 411.2 C156.6 413.7 158.1 416.5 159.6 418.7 C161.1 420.9 162.5 423.4 164.0 424.6 C165.5 425.8 166.8 426.8 168.5 426.0 C170.2 425.2 172.5 421.7 174.5 420.0 C176.5 418.3 177.9 417.9 180.4 415.7 C182.9 413.5 186.9 409.3 189.3 406.8 C191.7 404.3 193.2 402.4 195.0 400.8 C196.8 399.2 197.8 398.6 200.0 397.0 C202.2 395.4 205.4 391.2 207.9 391.4 C210.4 391.6 212.5 395.7 215.0 398.0 C217.5 400.3 220.5 403.6 223.0 405.4 C225.5 407.2 227.3 408.0 230.0 409.0 C232.7 410.0 236.9 409.5 239.4 411.3 C241.9 413.1 243.4 417.1 245.0 420.0 C246.6 422.9 247.0 426.2 248.8 428.8 C250.6 431.4 253.5 435.0 255.8 435.8 C258.1 436.6 260.5 436.2 262.8 433.5 C265.1 430.8 267.1 423.7 269.8 419.4 C272.5 415.1 276.3 409.4 279.2 407.8 C282.1 406.2 284.6 408.8 287.3 410.0 C290.0 411.2 293.9 413.8 295.5 414.8 C297.1 415.8 294.8 415.8 297.0 416.0 C299.2 416.2 305.6 417.2 308.7 416.0 C311.8 414.8 313.0 411.6 315.7 409.0 C318.4 406.4 322.1 403.0 325.0 400.7 C327.9 398.4 330.9 395.6 333.2 395.0 C335.5 394.4 336.9 393.9 339.0 397.2 C341.1 400.5 343.7 412.3 346.0 414.8 C348.3 417.3 350.7 412.4 353.0 412.4 C355.3 412.4 357.7 412.5 360.0 414.8 C362.3 417.1 364.7 426.4 367.0 426.4 C369.3 426.4 371.2 417.5 374.0 414.8 C376.8 412.1 380.0 411.6 383.5 410.0 C387.0 408.4 392.3 406.0 395.0 405.4 C397.7 404.8 397.8 405.0 399.8 406.6 C401.8 408.2 404.5 412.7 406.8 414.8 C409.1 416.9 410.9 420.4 413.8 419.4 C416.7 418.4 421.5 411.5 424.0 409.0 C426.5 406.5 426.8 403.3 428.7 404.3 C430.6 405.3 433.2 412.1 435.7 414.8 C438.2 417.5 441.2 421.0 443.9 420.6 C446.6 420.2 448.7 414.9 452.0 412.4 C455.3 409.9 460.4 404.8 463.7 405.4 C467.0 406.0 469.4 414.8 472.0 416.0 C474.6 417.2 476.7 413.4 479.0 412.4 C481.3 411.4 483.9 408.6 486.0 410.0 C488.1 411.4 489.7 419.8 491.8 420.6 C493.9 421.4 496.5 415.8 498.8 414.8 C501.1 413.8 503.5 416.4 505.8 414.8 C508.1 413.2 510.1 409.7 512.8 405.4 C515.5 401.1 519.1 393.3 522.0 389.0 C524.9 384.7 527.5 380.5 530.3 379.7 C533.0 378.9 535.2 382.1 538.5 384.4 C541.8 386.7 546.5 390.4 549.8 393.6 C553.1 396.8 555.4 402.8 558.3 403.4 C561.1 404.0 564.2 399.9 566.9 397.3 C569.5 394.7 572.0 389.3 574.2 387.5 C576.4 385.7 578.1 385.9 580.3 386.3 C582.5 386.7 585.0 388.6 587.6 390.0 C590.2 391.4 593.6 393.1 596.2 394.9 C598.9 396.7 600.6 400.2 603.5 401.0 C606.4 401.8 610.4 401.1 613.3 399.7 C616.1 398.3 618.3 396.2 620.6 392.4 C622.9 388.6 624.9 383.1 627.0 377.0 C629.1 370.9 631.6 360.3 633.5 356.0 C635.4 351.7 636.2 349.2 638.5 351.0 C640.8 352.8 644.4 360.1 647.5 366.8 C650.6 373.5 654.4 384.7 657.3 391.2 C660.1 397.7 662.1 403.0 664.6 405.9 C667.1 408.8 669.4 407.3 672.0 408.3 C674.6 409.3 676.9 410.8 680.0 412.0 C683.1 413.2 687.5 415.9 690.7 415.5 C693.9 415.1 695.8 413.1 699.3 409.4 C702.8 405.7 708.2 397.8 711.5 393.5 C714.8 389.2 716.2 385.8 718.8 383.8 C721.4 381.8 723.6 381.1 727.3 381.3 C730.9 381.5 736.8 383.6 740.7 385.0 C744.6 386.4 748.0 387.7 750.5 389.9 C753.0 392.1 753.4 394.9 755.4 398.4 C757.4 401.8 760.3 407.6 762.7 410.6 C765.1 413.7 767.1 414.5 770.0 416.7 C772.9 418.9 778.2 422.8 779.8 424.0" fill="none" stroke="#c83238" stroke-width="4.2" stroke-linejoin="round" stroke-linecap="round"/>
<path d="M165 448.5 V339.5 M414 448.5 V339.5" stroke="#4f5a6c" stroke-width="1.75" stroke-dasharray="6.5 2.8" fill="none"/>
<line x1="165.6" y1="436.5" x2="413.8" y2="419.4" stroke="#1f88d4" stroke-width="5.5"/>
<polyline points="414,420.3 494.5,428.5" fill="none" stroke="#8a8a8a" stroke-width="4.8"/>
<polyline points="588.4,387 634,344.3" fill="none" stroke="#8a8a8a" stroke-width="4.8"/>
<circle cx="494.5" cy="428.5" r="6.6" fill="#8c8c8c" stroke="#7a7a7a" stroke-width="1"/><circle cx="494.5" cy="428.5" r="2.8" fill="#0a0a0a"/>
<circle cx="588.4" cy="387" r="6.6" fill="#8c8c8c" stroke="#7a7a7a" stroke-width="1"/><circle cx="588.4" cy="387" r="2.8" fill="#0a0a0a"/>
<circle cx="634" cy="344.3" r="6.6" fill="#8c8c8c" stroke="#7a7a7a" stroke-width="1"/><circle cx="634" cy="344.3" r="2.8" fill="#0a0a0a"/>
<circle cx="165.6" cy="436.5" r="11.3" fill="#2a8bd6" stroke="#1c1c80" stroke-width="2"/>
<circle cx="413.8" cy="419.6" r="11.6" fill="#2a8bd6" stroke="#1c1c80" stroke-width="2"/>
<path d="M186 341 H410.7 Q413.7 341 413.7 344 V408" fill="none" stroke="#000" stroke-width="3"/>
<path d="M410.2 406.5 L417.2 406.5 L413.7 416.5Z" fill="#000"/>
<text x="165.6" y="441.8" font-family="Liberation Sans, Arial, sans-serif" font-size="15" fill="#fff" text-anchor="middle">1</text>
<text x="414.2" y="424.9" font-family="Liberation Sans, Arial, sans-serif" font-size="15" fill="#fff" text-anchor="middle">3</text>
<text x="806" y="355.6" font-family="Liberation Sans, Arial, sans-serif" font-size="10" fill="#262626" text-anchor="end">MACD (12,26,9)</text>
</g>
<g id="inset">
<rect x="101.3" y="294.2" width="85.2" height="94.4" fill="#fff" stroke="#cfcfcf" stroke-width="1.2"/>
<g fill="none" stroke="#d2d2d2" stroke-width="0.9"><ellipse cx="131" cy="341" rx="21" ry="42"/><ellipse cx="129" cy="341" rx="18" ry="38"/><ellipse cx="126" cy="341" rx="12" ry="28" stroke="#dedede"/></g>
<path d="M116 303.5 Q136 316 146 337" stroke="#86e21e" stroke-width="5" fill="none"/>
<path d="M106.2 300.3 L107.8 301.0 L109.3 301.6 L110.8 302.3 L112.2 303.1 L113.7 303.8 L115.1 304.6 L116.5 305.3 L117.8 306.1 L119.2 306.9 L120.5 307.8 L121.8 308.6 L123.0 309.5 L124.2 310.3 L125.4 311.2 L126.6 312.1 L127.7 313.1 L128.8 314.0 L129.9 315.0 L131.0 316.0 L132.0 317.0 L133.0 318.0 L134.0 319.1 L134.9 320.1 L135.8 321.2 L136.7 322.3 L137.6 323.4 L138.4 324.5 L139.2 325.7 L140.0 326.9 L140.8 328.0 L141.5 329.3 L142.2 330.5 L142.9 331.7 L143.5 333.0 L144.1 334.2 L144.7 335.5 L145.3 336.9 L145.8 338.2 L146.3 339.5 L146.8 340.9 M106.2 302.4 L107.3 303.5 L108.4 304.6 L109.4 305.8 L110.5 306.9 L111.6 307.9 L112.6 309.0 L113.7 310.1 L114.7 311.2 L115.8 312.2 L116.8 313.3 L117.8 314.3 L118.8 315.4 L119.8 316.4 L120.8 317.4 L121.8 318.4 L122.8 319.4 L123.8 320.4 L124.8 321.4 L125.8 322.4 L126.7 323.3 L127.7 324.3 L128.6 325.2 L129.6 326.2 L130.5 327.1 L131.5 328.0 L132.4 328.9 L133.3 329.9 L134.2 330.8 L135.1 331.6 L136.0 332.5 L136.9 333.4 L137.8 334.3 L138.7 335.1 L139.6 336.0 L140.4 336.8 L141.3 337.7 L142.2 338.5 L143.0 339.3 L143.9 340.1 L144.7 340.9 M109.7 301.8 L108.6 304.9 M114.4 304.2 L112.1 308.5 M118.8 306.7 L115.5 311.9 M122.9 309.4 L118.8 315.3 M126.8 312.3 L122.0 318.6 M130.3 315.4 L125.2 321.8 M133.6 318.7 L128.3 324.9 M136.6 322.1 L131.3 327.9 M139.3 325.8 L134.3 330.8 M141.7 329.6 L137.2 333.7 M143.8 333.6 L140.0 336.4 M145.7 337.8 L142.8 339.1" fill="none" stroke="#556b2f" stroke-width="1"/>
<g fill="#2a1a4a"><circle cx="120.8" cy="306.8" r="0.95"/><circle cx="125.4" cy="310.3" r="0.95"/><circle cx="129.6" cy="314.1" r="0.95"/><circle cx="133.5" cy="318.1" r="0.95"/><circle cx="137.1" cy="322.4" r="0.95"/><circle cx="140.4" cy="327.0" r="0.95"/><circle cx="143.3" cy="331.9" r="0.95"/></g>
<g fill="#7a4aa0"><circle cx="124.7" cy="305.2" r="0.85"/><circle cx="130.7" cy="310.0" r="0.85"/><circle cx="136.1" cy="315.2" r="0.85"/><circle cx="140.9" cy="321.0" r="0.85"/><circle cx="145.0" cy="327.2" r="0.85"/></g>
<path d="M117 379 Q133 366 146 346" stroke="#e35b12" stroke-width="5" fill="none" stroke-dasharray="4.5 1.2"/>
<path d="M106.2 382.4 L107.3 381.6 L108.3 380.9 L109.4 380.1 L110.4 379.3 L111.5 378.5 L112.5 377.7 L113.6 376.8 L114.6 376.0 L115.7 375.1 L116.7 374.3 L117.8 373.4 L118.8 372.5 L119.8 371.6 L120.9 370.7 L121.9 369.8 L122.9 368.8 L123.9 367.9 L125.0 366.9 L126.0 366.0 L127.0 365.0 L128.0 364.0 L129.0 363.0 L130.0 362.0 L131.0 361.0 L132.0 359.9 L133.0 358.9 L134.0 357.8 L135.0 356.8 L136.0 355.7 L137.0 354.6 L138.0 353.5 L139.0 352.4 L140.0 351.2 L141.0 350.1 L141.9 348.9 L142.9 347.8 L143.9 346.6 L144.9 345.4 L145.8 344.2 L146.8 343.0 M106.2 380.4 L106.9 379.2 L107.7 377.9 L108.5 376.7 L109.3 375.5 L110.1 374.4 L110.9 373.2 L111.7 372.0 L112.6 370.9 L113.4 369.8 L114.3 368.7 L115.2 367.6 L116.1 366.5 L117.0 365.4 L117.9 364.4 L118.8 363.3 L119.8 362.3 L120.8 361.3 L121.7 360.3 L122.7 359.3 L123.8 358.3 L124.8 357.4 L125.8 356.4 L126.9 355.5 L127.9 354.6 L129.0 353.7 L130.1 352.8 L131.2 351.9 L132.3 351.1 L133.4 350.2 L134.6 349.4 L135.7 348.6 L136.9 347.8 L138.1 347.0 L139.3 346.2 L140.5 345.5 L141.8 344.7 L143.0 344.0 L144.2 343.3 L145.5 342.6 L146.8 341.9 M108.6 380.7 L107.9 377.6 M112.0 378.1 L110.5 373.8 M115.4 375.4 L113.2 370.1 M118.7 372.6 L116.0 366.5 M122.1 369.6 L119.0 363.1 M125.4 366.6 L122.1 359.9 M128.6 363.4 L125.4 356.8 M131.9 360.1 L128.8 353.8 M135.1 356.7 L132.4 351.0 M138.3 353.1 L136.1 348.4 M141.5 349.5 L139.9 345.8 M144.6 345.7 L143.9 343.5" fill="none" stroke="#7a2a18" stroke-width="1"/>
<g fill="#3f6fe0"><circle cx="123.9" cy="380.1" r="0.95"/><circle cx="127.8" cy="376.8" r="0.95"/><circle cx="131.4" cy="373.2" r="0.95"/><circle cx="135.0" cy="369.2" r="0.95"/><circle cx="138.4" cy="365.0" r="0.95"/><circle cx="141.8" cy="360.3" r="0.95"/><circle cx="144.9" cy="355.3" r="0.95"/></g>
<path d="M149.9 298.5 C151.3 312 151.3 328 149.9 340 C148.5 328 148.5 312 149.9 298.5Z" fill="none" stroke="#6b7a2a" stroke-width="0.9"/>
<path d="M149.9 342 C151.3 355 151.3 370 149.9 384 C148.5 370 148.5 355 149.9 342Z" fill="none" stroke="#7a2a18" stroke-width="0.9"/>
<g fill="none" stroke-width="0.9" stroke-dasharray="1 1.4">
<path d="M152 340.2 C160 337 168 326 178 301.4" stroke="#6b7a2a"/>
<path d="M152 339.5 C158 335 166 322 175 301" stroke="#6b7a2a"/>
<path d="M152 341.9 C160 345 168 356 175.9 379.3" stroke="#7a2a18"/>
<path d="M152 342.5 C158 348 165 360 172 380" stroke="#7a2a18"/>
</g>
<path d="M144.7 341 H156" stroke="#eef8f8" stroke-width="1.8"/>
</g>
</svg>
</body></html>
